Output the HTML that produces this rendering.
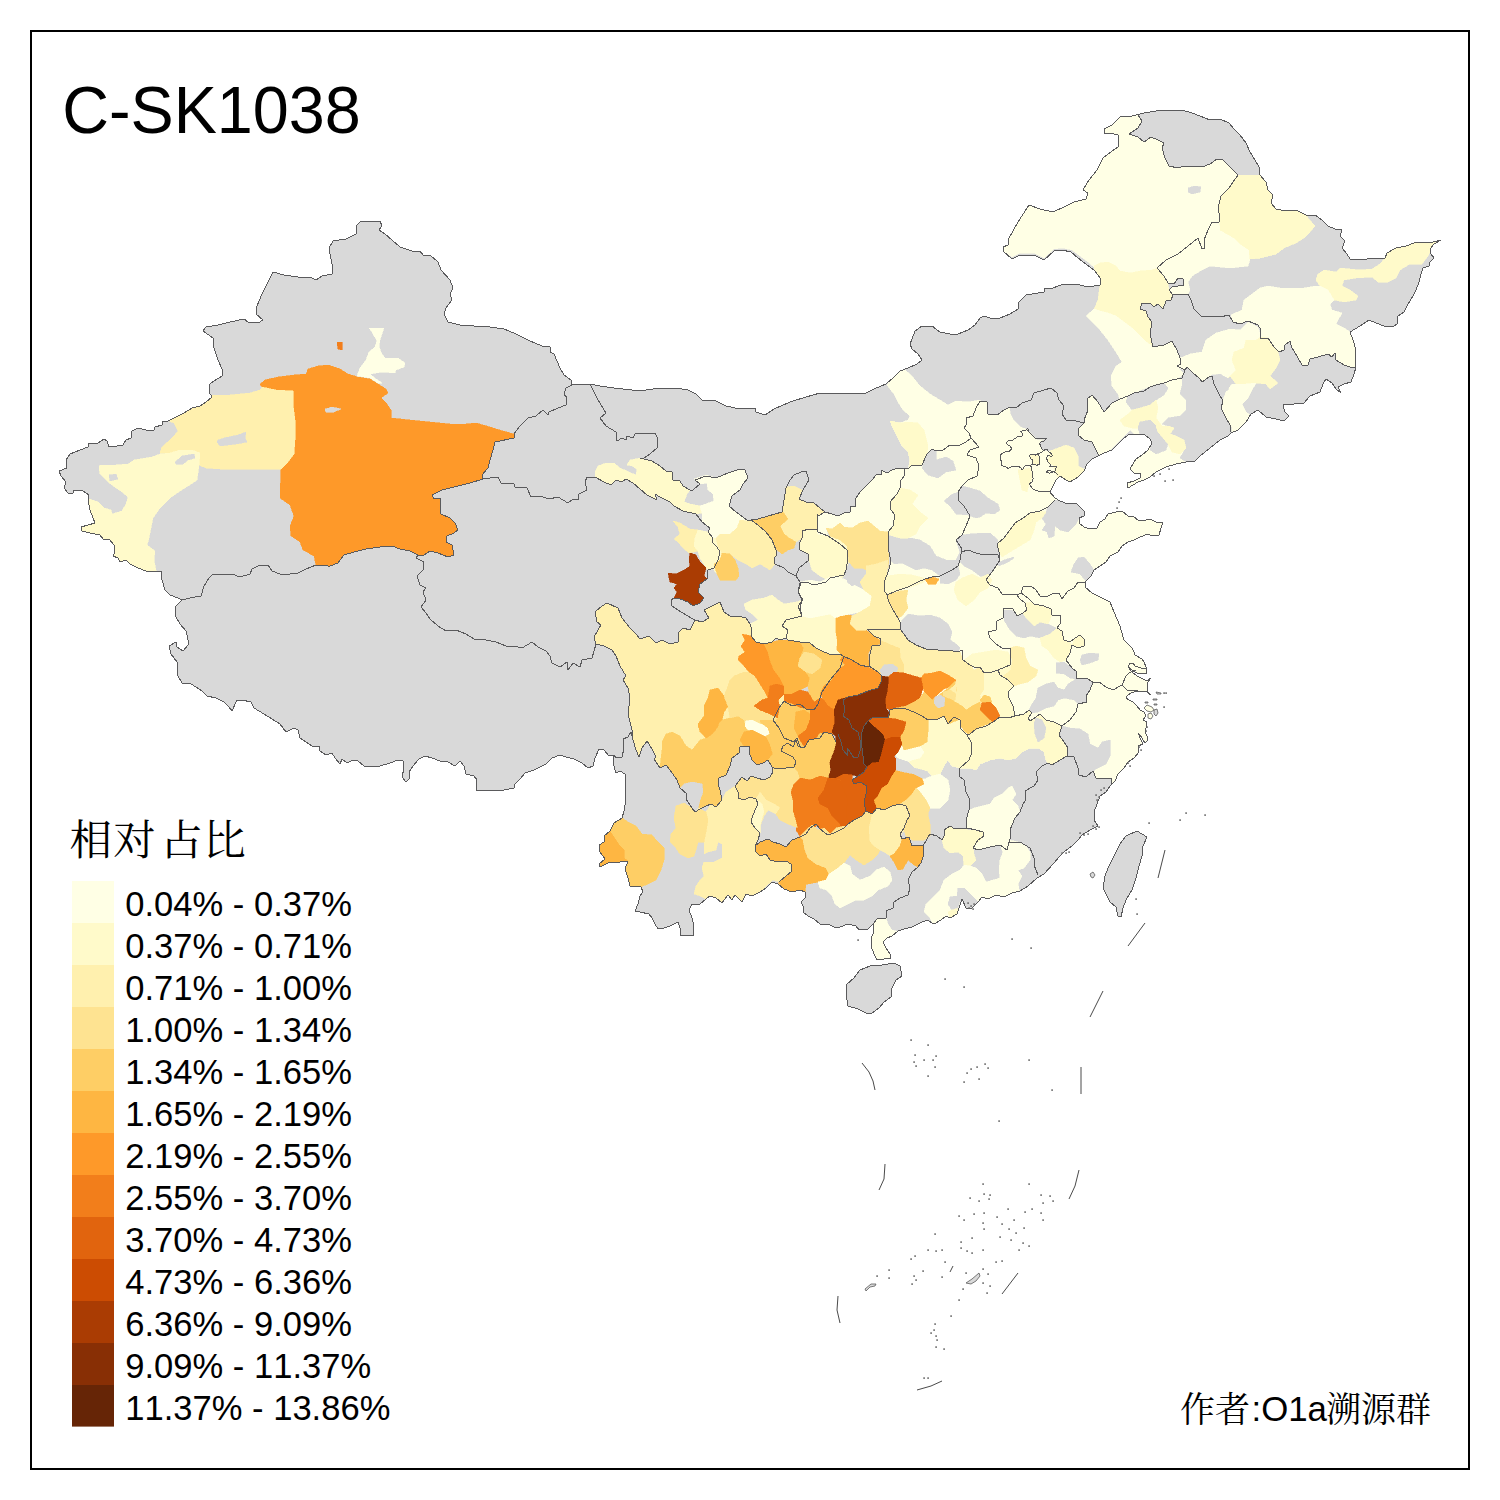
<!DOCTYPE html>
<html><head><meta charset="utf-8"><title>C-SK1038</title>
<style>
html,body{margin:0;padding:0;background:#fff;}
body{width:1500px;height:1500px;overflow:hidden;}
svg{display:block;}
.t{font-family:"Liberation Sans",sans-serif;fill:#000;font-kerning:none;}
.c{font-family:"Liberation Serif","Noto Serif CJK SC",serif;fill:#000;font-kerning:none;}
</style></head><body>
<svg width="1500" height="1500" viewBox="0 0 1500 1500">
<rect x="0" y="0" width="1500" height="1500" fill="#fff"/>
<g id="map">
<path d="M59,471 L67,468 L66,460 L70,454 L80,450 L88,447 L89,443 L98,443 L104,439 L107,441 L109,447 L117,446 L123,445 L126,440 L131,438 L132,431 L138,428 L146,430 L154,430 L155,427 L162,425 L163,421 L168,421 L176,417 L184,413 L192,408 L200,406 L206,402 L212,397 L209,392 L210,384 L214,381 L222,376 L223,371 L218,360 L214,348 L213,338 L203,331 L206,327 L218,325 L230,322 L244,319 L248,322 L258,323 L263,320 L256,314 L257,306 L262,294 L268,282 L273,272 L284,275 L298,277 L310,277 L316,280 L322,276 L332,274 L332,264 L330,254 L329,248 L333,241 L346,239 L356,234 L356,226 L360,222 L380,221 L382,226 L379,230 L385,234 L392,240 L400,247 L412,251 L420,251 L423,255 L430,255 L438,262 L441,270 L450,280 L453,288 L450,294 L452,300 L446,308 L444,314 L448,322 L460,325 L474,326 L490,327 L504,329 L516,334 L530,341 L542,346 L550,347 L550,352 L554,354 L560,368 L564,375 L571,380 L572,385 L590,384 L600,386 L614,388 L632,390 L646,390 L660,388 L676,388 L688,390 L696,394 L702,400 L714,400 L726,406 L740,409 L755,408 L756,412 L765,415 L774,409 L790,402 L806,397 L820,393 L836,394 L850,393 L866,393 L874,389 L886,384 L893,378 L900,371 L908,368 L917,364 L922,360 L918,354 L912,349 L910,344 L912,339 L915,331 L922,326 L932,326 L940,332 L950,334 L958,334 L968,330 L975,325 L980,318 L984,316 L990,318 L1000,318 L1010,314 L1018,309 L1019,302 L1026,295 L1044,292 L1045,288 L1050,289 L1064,284 L1076,284 L1080,285 L1088,287 L1100,285 L1100,278 L1095,271 L1086,264 L1078,258 L1071,252 L1062,250 L1054,251 L1044,260 L1034,255 L1020,255 L1012,259 L1003,251 L1003,247 L1008,245 L1009,238 L1018,222 L1029,205 L1040,209 L1053,212 L1064,207 L1074,202 L1086,199 L1088,193 L1083,190 L1089,180 L1097,170 L1103,158 L1112,151 L1118,147 L1118,135 L1110,133 L1104,134 L1104,129 L1112,125 L1120,117 L1132,116 L1144,113 L1156,111 L1170,110 L1182,110 L1192,113 L1200,116 L1210,120 L1220,119 L1229,123 L1234,129 L1240,135 L1246,143 L1250,152 L1255,160 L1259,167 L1259,174 L1266,182 L1268,190 L1273,195 L1271,203 L1276,209 L1286,211 L1296,210 L1306,215 L1315,215 L1322,220 L1328,226 L1335,229 L1342,230 L1340,236 L1345,241 L1342,248 L1347,254 L1350,259 L1362,260 L1372,258 L1385,258 L1387,253 L1396,248 L1406,246 L1414,243 L1424,242 L1433,242 L1441,240 L1434,244 L1430,249 L1431,254 L1434,258 L1430,262 L1429,266 L1423,268 L1421,274 L1419,282 L1416,290 L1413,296 L1408,304 L1404,312 L1398,316 L1397,324 L1393,327 L1384,326 L1376,323 L1369,320 L1360,326 L1350,332 L1353,340 L1356,350 L1355,360 L1356,367 L1354,374 L1351,382 L1344,384 L1338,387 L1341,393 L1336,389 L1332,383 L1326,379 L1323,384 L1320,392 L1310,396 L1304,403 L1294,404 L1283,405 L1285,412 L1289,416 L1284,421 L1276,419 L1266,417 L1258,410 L1251,414 L1246,422 L1238,430 L1231,433 L1228,436 L1220,440 L1210,448 L1200,456 L1195,461 L1186,462 L1176,464 L1166,467 L1156,472 L1150,477 L1144,480 L1138,482 L1128,488 L1127,483 L1134,481 L1140,478 L1140,473 L1134,473 L1130,469 L1133,464 L1136,459 L1142,455 L1148,450 L1152,443 L1150,439 L1145,435 L1136,434 L1128,435 L1123,439 L1118,444 L1112,450 L1104,453 L1098,456 L1092,459 L1087,464 L1084,471 L1078,477 L1070,482 L1066,480 L1060,476 L1056,480 L1053,486 L1050,492 L1055,498 L1060,501 L1068,504 L1076,503 L1080,507 L1085,512 L1084,516 L1079,518 L1079,523 L1084,527 L1090,529 L1097,528 L1100,522 L1105,519 L1108,514 L1116,512 L1122,511 L1128,516 L1134,517 L1138,520 L1146,520 L1150,519 L1156,522 L1163,522 L1161,528 L1159,535 L1152,536 L1148,534 L1140,537 L1134,540 L1128,542 L1122,546 L1118,552 L1110,556 L1106,562 L1100,566 L1094,570 L1091,576 L1086,581 L1085,587 L1092,593 L1102,598 L1110,602 L1114,612 L1120,626 L1124,640 L1132,648 L1134,652 L1135,655 L1142,659 L1144,662 L1146,667 L1147,673 L1143,673 L1137,673 L1132,670 L1128,667 L1132,672 L1137,676 L1143,679 L1147,681 L1151,678 L1147,683 L1147,690 L1149,694 L1151,695 L1147,692 L1137,691 L1131,693 L1127,696 L1126,698 L1129,700 L1133,702 L1137,706 L1140,710 L1144,712 L1146,716 L1143,720 L1147,722 L1146,728 L1145,732 L1147,736 L1148,740 L1145,743 L1140,735 L1138,733 L1141,740 L1143,744 L1138,746 L1139,752 L1134,758 L1128,762 L1124,768 L1118,774 L1115,781 L1110,786 L1106,792 L1100,796 L1097,804 L1094,812 L1094,820 L1098,826 L1090,830 L1082,835 L1078,840 L1072,846 L1064,852 L1059,857 L1054,863 L1044,874 L1037,878 L1028,886 L1020,891 L1012,893 L1004,897 L996,895 L988,899 L982,897 L978,902 L972,908 L966,908 L962,899 L959,908 L957,914 L950,918 L946,916 L941,920 L934,924 L927,920 L920,923 L912,927 L904,929 L898,931 L892,936 L887,938 L883,942 L886,948 L890,954 L891,958 L884,959 L877,960 L874,954 L871,946 L871,938 L874,932 L873,924 L868,929 L859,930 L856,926 L848,924 L840,927 L836,928 L830,925 L820,924 L814,919 L808,916 L803,912 L803,906 L801,902 L806,897 L805,892 L800,890 L792,892 L784,889 L778,884 L772,882 L766,888 L760,892 L752,896 L746,894 L742,902 L735,895 L732,900 L728,895 L722,903 L716,898 L710,896 L706,899 L700,904 L692,904 L689,910 L692,918 L694,926 L693,936 L686,935 L681,936 L680,928 L678,922 L670,926 L664,928 L658,929 L655,924 L652,918 L649,914 L640,912 L635,911 L638,904 L640,896 L643,892 L641,887 L630,886 L628,878 L625,869 L628,861 L620,862 L608,863 L600,867 L599,864 L605,859 L600,852 L599,845 L604,842 L604,836 L610,831 L614,823 L622,818 L624,811 L626,800 L625,788 L625,774 L620,771 L616,773 L613,763 L613,755 L609,756 L604,750 L599,749 L595,758 L593,766 L588,768 L582,763 L574,759 L566,757 L560,755 L552,758 L546,764 L544,765 L534,770 L525,773 L520,779 L515,784 L514,788 L504,790 L492,790 L477,791 L476,785 L477,780 L474,776 L466,774 L464,766 L460,761 L455,766 L448,762 L440,761 L432,758 L425,756 L419,759 L413,766 L409,772 L410,778 L406,782 L402,777 L404,768 L403,761 L398,760 L390,763 L380,766 L372,766 L364,766 L358,761 L353,760 L347,763 L342,759 L340,764 L335,758 L332,753 L326,755 L320,751 L319,746 L312,746 L306,742 L300,738 L298,730 L294,728 L286,732 L280,724 L272,719 L264,714 L254,708 L251,702 L242,700 L237,700 L232,711 L229,707 L224,702 L216,698 L207,696 L202,691 L196,687 L191,684 L182,683 L177,674 L177,662 L171,654 L169,646 L176,642 L177,647 L183,651 L189,644 L186,631 L180,624 L176,617 L175,607 L182,600 L178,598 L170,595 L165,590 L162,580 L161,571 L156,571 L146,571 L138,568 L130,564 L126,560 L120,562 L118,558 L113,556 L115,552 L114,545 L109,539 L103,539 L100,535 L90,533 L82,531 L81,527 L88,525 L95,523 L93,518 L90,510 L88,500 L89,495 L83,491 L74,490 L73,493 L68,493 L64,488 L66,482 L61,476Z" fill="#D9D9D9" stroke="none"/>
<path d="M1137,831 L1147,837 L1143,846 L1142,856 L1139,866 L1136,878 L1132,890 L1126,900 L1123,908 L1121,917 L1118,916 L1116,907 L1110,902 L1106,894 L1103,888 L1105,876 L1108,868 L1114,856 L1120,844 L1126,836Z" fill="#D9D9D9" stroke="none"/>
<path d="M894,963 L900,966 L902,976 L896,980 L892,988 L891,997 L884,1002 L879,1008 L872,1013 L866,1013 L858,1009 L848,1006 L846,994 L846,985 L854,978 L860,970 L870,966 L882,965Z" fill="#D9D9D9" stroke="none"/>
<clipPath id="landclip"><path d="M59,471 L67,468 L66,460 L70,454 L80,450 L88,447 L89,443 L98,443 L104,439 L107,441 L109,447 L117,446 L123,445 L126,440 L131,438 L132,431 L138,428 L146,430 L154,430 L155,427 L162,425 L163,421 L168,421 L176,417 L184,413 L192,408 L200,406 L206,402 L212,397 L209,392 L210,384 L214,381 L222,376 L223,371 L218,360 L214,348 L213,338 L203,331 L206,327 L218,325 L230,322 L244,319 L248,322 L258,323 L263,320 L256,314 L257,306 L262,294 L268,282 L273,272 L284,275 L298,277 L310,277 L316,280 L322,276 L332,274 L332,264 L330,254 L329,248 L333,241 L346,239 L356,234 L356,226 L360,222 L380,221 L382,226 L379,230 L385,234 L392,240 L400,247 L412,251 L420,251 L423,255 L430,255 L438,262 L441,270 L450,280 L453,288 L450,294 L452,300 L446,308 L444,314 L448,322 L460,325 L474,326 L490,327 L504,329 L516,334 L530,341 L542,346 L550,347 L550,352 L554,354 L560,368 L564,375 L571,380 L572,385 L590,384 L600,386 L614,388 L632,390 L646,390 L660,388 L676,388 L688,390 L696,394 L702,400 L714,400 L726,406 L740,409 L755,408 L756,412 L765,415 L774,409 L790,402 L806,397 L820,393 L836,394 L850,393 L866,393 L874,389 L886,384 L893,378 L900,371 L908,368 L917,364 L922,360 L918,354 L912,349 L910,344 L912,339 L915,331 L922,326 L932,326 L940,332 L950,334 L958,334 L968,330 L975,325 L980,318 L984,316 L990,318 L1000,318 L1010,314 L1018,309 L1019,302 L1026,295 L1044,292 L1045,288 L1050,289 L1064,284 L1076,284 L1080,285 L1088,287 L1100,285 L1100,278 L1095,271 L1086,264 L1078,258 L1071,252 L1062,250 L1054,251 L1044,260 L1034,255 L1020,255 L1012,259 L1003,251 L1003,247 L1008,245 L1009,238 L1018,222 L1029,205 L1040,209 L1053,212 L1064,207 L1074,202 L1086,199 L1088,193 L1083,190 L1089,180 L1097,170 L1103,158 L1112,151 L1118,147 L1118,135 L1110,133 L1104,134 L1104,129 L1112,125 L1120,117 L1132,116 L1144,113 L1156,111 L1170,110 L1182,110 L1192,113 L1200,116 L1210,120 L1220,119 L1229,123 L1234,129 L1240,135 L1246,143 L1250,152 L1255,160 L1259,167 L1259,174 L1266,182 L1268,190 L1273,195 L1271,203 L1276,209 L1286,211 L1296,210 L1306,215 L1315,215 L1322,220 L1328,226 L1335,229 L1342,230 L1340,236 L1345,241 L1342,248 L1347,254 L1350,259 L1362,260 L1372,258 L1385,258 L1387,253 L1396,248 L1406,246 L1414,243 L1424,242 L1433,242 L1441,240 L1434,244 L1430,249 L1431,254 L1434,258 L1430,262 L1429,266 L1423,268 L1421,274 L1419,282 L1416,290 L1413,296 L1408,304 L1404,312 L1398,316 L1397,324 L1393,327 L1384,326 L1376,323 L1369,320 L1360,326 L1350,332 L1353,340 L1356,350 L1355,360 L1356,367 L1354,374 L1351,382 L1344,384 L1338,387 L1341,393 L1336,389 L1332,383 L1326,379 L1323,384 L1320,392 L1310,396 L1304,403 L1294,404 L1283,405 L1285,412 L1289,416 L1284,421 L1276,419 L1266,417 L1258,410 L1251,414 L1246,422 L1238,430 L1231,433 L1228,436 L1220,440 L1210,448 L1200,456 L1195,461 L1186,462 L1176,464 L1166,467 L1156,472 L1150,477 L1144,480 L1138,482 L1128,488 L1127,483 L1134,481 L1140,478 L1140,473 L1134,473 L1130,469 L1133,464 L1136,459 L1142,455 L1148,450 L1152,443 L1150,439 L1145,435 L1136,434 L1128,435 L1123,439 L1118,444 L1112,450 L1104,453 L1098,456 L1092,459 L1087,464 L1084,471 L1078,477 L1070,482 L1066,480 L1060,476 L1056,480 L1053,486 L1050,492 L1055,498 L1060,501 L1068,504 L1076,503 L1080,507 L1085,512 L1084,516 L1079,518 L1079,523 L1084,527 L1090,529 L1097,528 L1100,522 L1105,519 L1108,514 L1116,512 L1122,511 L1128,516 L1134,517 L1138,520 L1146,520 L1150,519 L1156,522 L1163,522 L1161,528 L1159,535 L1152,536 L1148,534 L1140,537 L1134,540 L1128,542 L1122,546 L1118,552 L1110,556 L1106,562 L1100,566 L1094,570 L1091,576 L1086,581 L1085,587 L1092,593 L1102,598 L1110,602 L1114,612 L1120,626 L1124,640 L1132,648 L1134,652 L1135,655 L1142,659 L1144,662 L1146,667 L1147,673 L1143,673 L1137,673 L1132,670 L1128,667 L1132,672 L1137,676 L1143,679 L1147,681 L1151,678 L1147,683 L1147,690 L1149,694 L1151,695 L1147,692 L1137,691 L1131,693 L1127,696 L1126,698 L1129,700 L1133,702 L1137,706 L1140,710 L1144,712 L1146,716 L1143,720 L1147,722 L1146,728 L1145,732 L1147,736 L1148,740 L1145,743 L1140,735 L1138,733 L1141,740 L1143,744 L1138,746 L1139,752 L1134,758 L1128,762 L1124,768 L1118,774 L1115,781 L1110,786 L1106,792 L1100,796 L1097,804 L1094,812 L1094,820 L1098,826 L1090,830 L1082,835 L1078,840 L1072,846 L1064,852 L1059,857 L1054,863 L1044,874 L1037,878 L1028,886 L1020,891 L1012,893 L1004,897 L996,895 L988,899 L982,897 L978,902 L972,908 L966,908 L962,899 L959,908 L957,914 L950,918 L946,916 L941,920 L934,924 L927,920 L920,923 L912,927 L904,929 L898,931 L892,936 L887,938 L883,942 L886,948 L890,954 L891,958 L884,959 L877,960 L874,954 L871,946 L871,938 L874,932 L873,924 L868,929 L859,930 L856,926 L848,924 L840,927 L836,928 L830,925 L820,924 L814,919 L808,916 L803,912 L803,906 L801,902 L806,897 L805,892 L800,890 L792,892 L784,889 L778,884 L772,882 L766,888 L760,892 L752,896 L746,894 L742,902 L735,895 L732,900 L728,895 L722,903 L716,898 L710,896 L706,899 L700,904 L692,904 L689,910 L692,918 L694,926 L693,936 L686,935 L681,936 L680,928 L678,922 L670,926 L664,928 L658,929 L655,924 L652,918 L649,914 L640,912 L635,911 L638,904 L640,896 L643,892 L641,887 L630,886 L628,878 L625,869 L628,861 L620,862 L608,863 L600,867 L599,864 L605,859 L600,852 L599,845 L604,842 L604,836 L610,831 L614,823 L622,818 L624,811 L626,800 L625,788 L625,774 L620,771 L616,773 L613,763 L613,755 L609,756 L604,750 L599,749 L595,758 L593,766 L588,768 L582,763 L574,759 L566,757 L560,755 L552,758 L546,764 L544,765 L534,770 L525,773 L520,779 L515,784 L514,788 L504,790 L492,790 L477,791 L476,785 L477,780 L474,776 L466,774 L464,766 L460,761 L455,766 L448,762 L440,761 L432,758 L425,756 L419,759 L413,766 L409,772 L410,778 L406,782 L402,777 L404,768 L403,761 L398,760 L390,763 L380,766 L372,766 L364,766 L358,761 L353,760 L347,763 L342,759 L340,764 L335,758 L332,753 L326,755 L320,751 L319,746 L312,746 L306,742 L300,738 L298,730 L294,728 L286,732 L280,724 L272,719 L264,714 L254,708 L251,702 L242,700 L237,700 L232,711 L229,707 L224,702 L216,698 L207,696 L202,691 L196,687 L191,684 L182,683 L177,674 L177,662 L171,654 L169,646 L176,642 L177,647 L183,651 L189,644 L186,631 L180,624 L176,617 L175,607 L182,600 L178,598 L170,595 L165,590 L162,580 L161,571 L156,571 L146,571 L138,568 L130,564 L126,560 L120,562 L118,558 L113,556 L115,552 L114,545 L109,539 L103,539 L100,535 L90,533 L82,531 L81,527 L88,525 L95,523 L93,518 L90,510 L88,500 L89,495 L83,491 L74,490 L73,493 L68,493 L64,488 L66,482 L61,476Z"/><path d="M1137,831 L1147,837 L1143,846 L1142,856 L1139,866 L1136,878 L1132,890 L1126,900 L1123,908 L1121,917 L1118,916 L1116,907 L1110,902 L1106,894 L1103,888 L1105,876 L1108,868 L1114,856 L1120,844 L1126,836Z"/><path d="M894,963 L900,966 L902,976 L896,980 L892,988 L891,997 L884,1002 L879,1008 L872,1013 L866,1013 L858,1009 L848,1006 L846,994 L846,985 L854,978 L860,970 L870,966 L882,965Z"/></clipPath>
<g clip-path="url(#landclip)" shape-rendering="crispEdges">
<path d="M260,384 L265,380 L278,377 L294,375 L306,374 L308,369 L318,366 L328,365 L340,369 L348,374 L358,377 L370,379 L378,384 L386,389 L388,393 L381,398 L387,404 L391,410 L391,418 L410,420 L430,422 L450,424 L466,424 L476,423 L490,427 L496,429 L514,434 L514,438 L495,442 L493,450 L490,460 L488,468 L482,475 L483,479 L470,483 L458,486 L442,490 L432,495 L434,499 L440,498 L441,514 L450,518 L455,523 L458,530 L454,533 L447,536 L446,542 L452,545 L454,555 L448,557 L438,553 L430,551 L424,555 L418,555 L410,551 L400,549 L392,546 L380,547 L366,549 L354,552 L344,555 L338,563 L330,566 L316,565 L314,556 L303,550 L300,542 L291,536 L290,526 L294,516 L290,505 L280,498 L281,469 L288,462 L294,454 L295,440 L295,420 L293,404 L293,391 L276,390 L262,387Z" fill="#FE9929" stroke="#FE9929" stroke-width="0.6"/>
<path d="M325,409 L332,407 L341,409 L334,412 L326,412Z" fill="#D9D9D9" stroke="#D9D9D9" stroke-width="0.6"/>
<path d="M166,420 L176,415 L184,411 L192,406 L200,404 L206,400 L211,395 L220,395 L230,395 L240,394 L250,393 L260,390 L262,387 L276,390 L293,391 L293,404 L295,420 L295,440 L294,454 L288,462 L281,469 L260,469 L240,469 L220,469 L206,468 L199,465 L200,453 L192,450 L180,450 L170,453 L160,453 L162,447 L172,438 L178,431 L174,423Z" fill="#FFF0AE" stroke="#FFF0AE" stroke-width="0.6"/>
<path d="M218,440 L224,438 L238,435 L246,432 L245,438 L247,442 L236,444 L220,446 L217,442Z" fill="#D9D9D9" stroke="#D9D9D9" stroke-width="0.6"/>
<path d="M100,465 L116,465 L128,464 L134,460 L152,457 L160,454 L170,453 L180,450 L192,450 L200,453 L199,465 L197,480 L188,486 L180,491 L170,498 L160,508 L153,518 L151,528 L149,538 L147,545 L155,551 L154,560 L156,570 L156,575 L146,575 L138,572 L130,568 L126,564 L120,566 L116,560 L111,558 L111,552 L110,545 L107,543 L101,543 L98,539 L88,537 L78,533 L77,527 L86,521 L92,521 L90,518 L88,510 L86,500 L89,499 L98,502 L104,508 L111,510 L112,514 L122,511 L126,504 L128,497 L122,492 L116,488 L108,482 L104,478 L100,474 L99,468Z" fill="#FFFACA" stroke="#FFFACA" stroke-width="0.6"/>
<path d="M109,475 L116,474 L118,479 L110,481Z" fill="#D9D9D9" stroke="#D9D9D9" stroke-width="0.6"/>
<path d="M175,462 L182,456 L194,454 L195,458 L188,460 L183,464 L176,464Z" fill="#D9D9D9" stroke="#D9D9D9" stroke-width="0.6"/>
<path d="M369,328 L384,328 L380,340 L379,347 L382,354 L385,358 L398,358 L405,363 L404,367 L396,370 L395,373 L382,372 L370,374 L376,379 L382,383 L378,383 L370,378 L364,377 L357,376 L360,368 L366,360 L369,352 L375,347 L377,341 L372,332Z" fill="#FFFFE5" stroke="#FFFFE5" stroke-width="0.6"/>
<path d="M337,342 L342,342 L342,350 L338,349Z" fill="#F27E1B" stroke="#F27E1B" stroke-width="0.6"/>
<path d="M595,472 L598,466 L606,463 L614,463 L620,468 L629,472 L636,475 L637,469 L632,466 L627,465 L630,460 L640,458 L652,461 L660,466 L666,471 L672,472 L673,480 L680,481 L683,486 L690,490 L687,494 L684,502 L690,504 L700,506 L702,513 L696,514 L683,511 L674,506 L670,502 L660,497 L655,494 L657,500 L647,495 L640,489 L633,483 L626,479 L622,482 L616,480 L611,485 L604,482 L595,477Z" fill="#FFFACA" stroke="#FFFACA" stroke-width="0.6"/>
<path d="M694,479 L706,475 L716,478 L728,473 L740,470 L745,470 L748,478 L743,484 L740,490 L732,496 L729,506 L736,512 L743,517 L748,521 L740,520 L737,528 L730,534 L720,534 L716,538 L713,538 L708,532 L710,528 L702,522 L702,513 L700,506 L714,501 L713,494 L708,490 L707,483 L700,484Z" fill="#FFFFE5" stroke="#FFFFE5" stroke-width="0.6"/>
<path d="M673,521 L680,523 L690,529 L698,530 L695,538 L694,546 L698,551 L689,553 L683,548 L678,542 L674,539 L680,534 L678,527Z" fill="#FFF0AE" stroke="#FFF0AE" stroke-width="0.6"/>
<path d="M698,530 L708,532 L713,538 L716,538 L718,546 L722,553 L720,560 L714,564 L717,574 L712,568 L708,570 L704,564 L700,558 L698,551 L694,546 L695,538Z" fill="#FFFACA" stroke="#FFFACA" stroke-width="0.6"/>
<path d="M716,538 L720,534 L730,534 L737,528 L740,520 L748,521 L751,520 L758,525 L766,532 L772,540 L776,550 L777,555 L774,558 L775,564 L770,570 L760,564 L752,568 L746,564 L738,560 L730,554 L722,553 L718,546Z" fill="#FFF0AE" stroke="#FFF0AE" stroke-width="0.6"/>
<path d="M722,553 L730,554 L735,560 L738,568 L739,576 L736,580 L720,580 L717,574 L714,564 L720,560Z" fill="#FECE65" stroke="#FECE65" stroke-width="0.6"/>
<path d="M786,487 L794,486 L802,490 L799,499 L806,502 L814,503 L820,508 L825,512 L818,516 L817,522 L817,529 L809,529 L802,531 L802,538 L796,542 L789,538 L784,534 L780,526 L788,519 L784,513 L782,512 L784,500Z" fill="#FFF0AE" stroke="#FFF0AE" stroke-width="0.6"/>
<path d="M751,520 L758,519 L768,516 L782,512 L784,513 L788,519 L780,526 L784,534 L789,538 L796,542 L794,548 L788,550 L782,554 L777,550 L772,540 L766,532 L758,525Z" fill="#FECE65" stroke="#FECE65" stroke-width="0.6"/>
<path d="M802,531 L809,529 L817,530 L818,534 L828,536 L840,540 L847,546 L848,552 L849,562 L846,568 L844,576 L838,580 L828,580 L820,576 L812,570 L809,560 L808,554 L800,550 L799,544 L802,538Z" fill="#FFFACA" stroke="#FFFACA" stroke-width="0.6"/>
<path d="M825,512 L832,514 L838,516 L844,513 L850,512 L851,506 L855,507 L856,498 L860,492 L866,486 L872,480 L876,475 L882,474 L881,470 L887,473 L892,470 L898,468 L904,468 L905,475 L901,480 L900,488 L897,494 L890,502 L891,510 L895,515 L893,526 L888,532 L880,531 L874,526 L868,521 L860,523 L852,528 L844,527 L840,523 L832,529 L826,528 L828,536 L818,534 L817,522 L818,516Z" fill="#FFFFE5" stroke="#FFFFE5" stroke-width="0.6"/>
<path d="M826,528 L832,529 L840,523 L844,527 L852,528 L860,523 L868,521 L874,526 L880,531 L888,532 L888,546 L889,560 L888,568 L880,570 L870,572 L862,568 L854,568 L849,562 L848,552 L847,546 L840,540 L830,536Z" fill="#FEE391" stroke="#FEE391" stroke-width="0.6"/>
<path d="M887,385 L893,376 L899,368 L905,370 L912,376 L920,386 L930,394 L940,400 L948,405 L956,401 L968,402 L980,400 L980,401 L976,408 L973,416 L966,418 L967,424 L964,428 L969,433 L971,438 L966,442 L958,446 L950,445 L943,450 L936,451 L932,449 L927,454 L922,465 L912,465 L908,469 L910,460 L908,452 L902,446 L898,438 L893,428 L890,421 L900,423 L908,420 L910,416 L903,410 L898,402 L894,394 L890,389Z" fill="#FFFFE5" stroke="#FFFFE5" stroke-width="0.6"/>
<path d="M890,421 L900,423 L908,422 L918,423 L924,430 L926,438 L928,446 L927,454 L922,465 L912,465 L909,468 L910,460 L908,452 L902,446 L898,438 L893,428Z" fill="#FFFACA" stroke="#FFFACA" stroke-width="0.6"/>
<path d="M1100,285 L1102,278 L1097,270 L1088,262 L1080,256 L1072,250 L1062,248 L1054,249 L1044,258 L1034,253 L1020,253 L1012,257 L1001,251 L1001,245 L1006,243 L1007,238 L1016,221 L1028,203 L1040,207 L1053,210 L1064,205 L1074,200 L1084,198 L1086,193 L1081,190 L1087,179 L1095,169 L1101,157 L1111,149 L1116,146 L1116,137 L1110,135 L1102,136 L1102,128 L1111,123 L1119,115 L1132,114 L1138,113 L1138,115 L1142,121 L1138,128 L1129,134 L1138,137 L1144,142 L1151,137 L1158,140 L1164,143 L1162,148 L1165,158 L1169,166 L1178,168 L1184,166 L1192,166 L1202,167 L1210,164 L1217,159 L1223,160 L1230,167 L1238,175 L1233,182 L1229,188 L1221,196 L1219,204 L1218,210 L1220,216 L1219,222 L1212,222 L1208,230 L1204,240 L1205,248 L1202,249 L1198,238 L1188,246 L1178,254 L1166,260 L1157,268 L1152,270 L1140,271 L1130,273 L1120,271 L1116,266 L1108,262 L1100,263 L1094,266 L1095,271 L1100,278Z" fill="#FFFFE5" stroke="#FFFFE5" stroke-width="0.6"/>
<path d="M1188,188 L1194,186 L1201,187 L1200,192 L1192,194 L1188,192Z" fill="#D9D9D9" stroke="#D9D9D9" stroke-width="0.6"/>
<path d="M1094,266 L1100,263 L1108,262 L1116,266 L1120,271 L1130,273 L1140,271 L1152,270 L1157,268 L1164,276 L1168,283 L1169,290 L1173,295 L1171,300 L1166,301 L1163,309 L1158,304 L1154,307 L1150,303 L1142,303 L1140,309 L1146,311 L1148,317 L1152,322 L1150,334 L1152,346 L1146,342 L1140,336 L1132,328 L1124,322 L1116,316 L1108,313 L1100,311 L1094,309 L1098,300 L1099,292 L1100,285 L1100,278 L1095,271Z" fill="#FFFACA" stroke="#FFFACA" stroke-width="0.6"/>
<path d="M1086,316 L1094,309 L1100,311 L1108,313 L1116,316 L1124,322 L1132,328 L1140,336 L1146,342 L1152,346 L1153,347 L1164,345 L1172,341 L1177,350 L1180,358 L1181,364 L1177,367 L1180,370 L1184,374 L1176,380 L1168,382 L1156,384 L1146,388 L1134,393 L1128,396 L1120,399 L1118,394 L1112,386 L1111,376 L1116,366 L1122,362 L1116,352 L1108,340 L1100,330 L1092,322Z" fill="#FFFFE5" stroke="#FFFFE5" stroke-width="0.6"/>
<path d="M1238,175 L1259,175 L1262,174 L1268,181 L1270,190 L1275,195 L1273,203 L1277,208 L1286,209 L1296,208 L1306,213 L1308,218 L1315,226 L1310,232 L1304,238 L1296,243 L1284,248 L1276,254 L1260,258 L1250,259 L1249,250 L1240,244 L1234,238 L1236,230 L1220,230 L1219,222 L1220,216 L1218,210 L1219,204 L1221,196 L1229,188 L1233,182Z" fill="#FFFACA" stroke="#FFFACA" stroke-width="0.6"/>
<path d="M1212,222 L1219,222 L1220,230 L1236,230 L1234,238 L1240,244 L1249,250 L1250,259 L1248,266 L1230,268 L1210,266 L1202,270 L1192,276 L1188,282 L1184,285 L1183,279 L1178,278 L1174,284 L1168,283 L1164,276 L1157,268 L1166,260 L1178,254 L1188,246 L1198,238 L1202,249 L1205,248 L1204,240 L1208,230Z" fill="#FFFFE5" stroke="#FFFFE5" stroke-width="0.6"/>
<path d="M1172,287 L1184,285 L1188,282 L1190,290 L1188,294 L1173,295 L1169,290Z" fill="#FFFFE5" stroke="#FFFFE5" stroke-width="0.6"/>
<path d="M1318,274 L1324,270 L1336,272 L1340,268 L1360,270 L1372,269 L1380,264 L1385,258 L1385,256 L1387,251 L1396,246 L1406,244 L1414,241 L1424,240 L1433,240 L1443,238 L1436,244 L1432,249 L1428,256 L1422,264 L1410,264 L1400,270 L1396,278 L1388,282 L1378,282 L1372,277 L1356,278 L1344,280 L1342,286 L1350,290 L1358,296 L1356,300 L1344,302 L1334,300 L1328,290 L1320,286 L1316,280Z" fill="#FFFACA" stroke="#FFFACA" stroke-width="0.6"/>
<path d="M1231,315 L1242,310 L1244,300 L1252,294 L1260,288 L1268,286 L1280,288 L1292,288 L1304,288 L1316,286 L1320,286 L1328,290 L1334,300 L1330,304 L1332,310 L1342,313 L1338,320 L1336,324 L1344,328 L1350,332 L1355,340 L1358,350 L1357,360 L1358,367 L1350,367 L1344,365 L1336,360 L1335,353 L1332,357 L1328,354 L1318,357 L1310,359 L1308,365 L1302,365 L1297,356 L1292,348 L1290,341 L1285,345 L1284,350 L1279,352 L1274,347 L1268,338 L1260,338 L1261,330 L1258,325 L1248,321 L1240,324 L1233,322Z" fill="#FFFFE5" stroke="#FFFFE5" stroke-width="0.6"/>
<path d="M1206,340 L1216,333 L1230,329 L1240,330 L1248,322 L1258,327 L1261,337 L1256,340 L1248,340 L1244,348 L1234,352 L1232,360 L1236,370 L1228,378 L1220,374 L1212,374 L1209,377 L1202,382 L1200,379 L1192,374 L1188,367 L1184,370 L1177,367 L1181,364 L1180,358 L1190,354 L1202,352 L1204,346Z" fill="#FFFFE5" stroke="#FFFFE5" stroke-width="0.6"/>
<path d="M1246,340 L1256,340 L1261,337 L1268,338 L1274,347 L1278,352 L1280,360 L1276,368 L1270,376 L1278,383 L1270,389 L1266,384 L1256,383 L1246,384 L1236,384 L1230,376 L1228,378 L1236,370 L1232,360 L1234,352 L1244,348Z" fill="#FFFACA" stroke="#FFFACA" stroke-width="0.6"/>
<path d="M1223,400 L1226,392 L1232,384 L1246,384 L1256,383 L1252,390 L1248,398 L1242,404 L1246,412 L1250,415 L1246,423 L1235,433 L1230,432 L1231,426 L1225,416 L1221,408Z" fill="#FFFFE5" stroke="#FFFFE5" stroke-width="0.6"/>
<path d="M1212,376 L1220,374 L1230,380 L1228,390 L1220,394 L1218,392 L1214,384Z" fill="#D9D9D9" stroke="#D9D9D9" stroke-width="0.6"/>
<path d="M1084,423 L1084,420 L1088,410 L1087,399 L1092,395 L1098,402 L1104,412 L1112,403 L1120,399 L1128,396 L1134,393 L1144,391 L1150,387 L1156,385 L1164,383 L1172,380 L1182,378 L1185,370 L1187,367 L1192,372 L1200,379 L1202,382 L1209,377 L1212,376 L1214,384 L1218,392 L1223,401 L1221,408 L1225,416 L1231,427 L1232,436 L1215,452 L1198,464 L1170,472 L1140,490 L1120,495 L1125,470 L1145,445 L1130,430 L1105,455 L1085,470 L1060,485 L1052,480 L1057,476 L1060,474 L1066,478 L1070,480 L1078,475 L1084,469 L1087,464 L1092,459 L1099,456 L1095,448 L1092,442 L1084,440 L1078,435 L1078,429Z" fill="#FFFFE5" stroke="#FFFFE5" stroke-width="0.6"/>
<path d="M1128,396 L1134,393 L1144,391 L1150,387 L1156,385 L1164,383 L1168,388 L1164,395 L1156,400 L1150,405 L1140,408 L1132,410 L1126,402Z" fill="#D9D9D9" stroke="#D9D9D9" stroke-width="0.6"/>
<path d="M1120,420 L1128,414 L1132,410 L1140,408 L1150,405 L1156,400 L1158,408 L1156,418 L1162,426 L1156,426 L1150,420 L1140,422 L1138,428 L1132,428 L1124,426Z" fill="#FFFACA" stroke="#FFFACA" stroke-width="0.6"/>
<path d="M1138,428 L1140,422 L1150,420 L1156,426 L1158,432 L1168,444 L1166,450 L1156,454 L1150,450 L1152,443 L1150,439 L1145,435 L1140,434Z" fill="#D9D9D9" stroke="#D9D9D9" stroke-width="0.6"/>
<path d="M1185,370 L1187,367 L1192,372 L1200,379 L1202,382 L1209,377 L1212,376 L1214,384 L1218,392 L1223,401 L1221,408 L1225,416 L1231,427 L1232,436 L1215,452 L1198,464 L1186,462 L1180,458 L1186,448 L1184,440 L1176,436 L1170,434 L1174,428 L1168,426 L1162,424 L1168,418 L1180,416 L1186,410 L1186,400 L1180,394 L1182,386 L1182,378Z" fill="#D9D9D9" stroke="#D9D9D9" stroke-width="0.6"/>
<path d="M1156,426 L1162,426 L1168,426 L1174,428 L1170,434 L1176,436 L1184,440 L1186,448 L1180,454 L1172,452 L1168,444 L1158,432Z" fill="#FFFACA" stroke="#FFFACA" stroke-width="0.6"/>
<path d="M904,468 L908,469 L912,465 L922,465 L927,454 L932,449 L936,451 L943,450 L950,445 L958,446 L966,442 L971,438 L969,433 L964,428 L967,424 L966,418 L973,416 L976,408 L980,401 L987,402 L988,414 L997,415 L1004,410 L1010,407 L1016,408 L1022,403 L1031,400 L1034,393 L1044,390 L1051,388 L1057,393 L1059,400 L1064,406 L1062,414 L1066,420 L1076,421 L1084,423 L1078,429 L1078,435 L1084,440 L1092,442 L1095,448 L1099,456 L1100,470 L1090,490 L1095,505 L1130,500 L1175,515 L1170,545 L1130,555 L1105,580 L1100,592 L1120,605 L1135,640 L1155,665 L1165,705 L1160,730 L1150,750 L1130,775 L1115,790 L1111,784 L1111,778 L1102,779 L1096,778 L1093,771 L1086,777 L1079,775 L1078,768 L1074,757 L1067,756 L1060,760 L1052,765 L1048,763 L1046,760 L1044,752 L1038,748 L1030,748 L1022,752 L1016,758 L1008,760 L1000,758 L990,760 L980,764 L976,770 L969,768 L960,768 L952,766 L948,760 L944,766 L940,774 L932,776 L928,772 L922,770 L914,768 L908,762 L900,760 L896,756 L898,752 L902,744 L904,750 L912,748 L920,746 L927,742 L928,732 L928,720 L922,714 L914,710 L906,706 L914,702 L920,698 L923,688 L921,678 L914,676 L904,673 L894,672 L888,677 L882,676 L878,672 L869,666 L870,654 L872,646 L880,645 L881,639 L874,636 L867,629 L872,630 L880,629 L890,630 L900,629 L901,624 L898,618 L893,610 L889,602 L887,595 L884,590 L885,580 L888,572 L891,562 L889,552 L888,540 L888,532 L893,526 L895,515 L891,510 L890,502 L897,494 L900,488 L901,480 L905,475Z" fill="#FFFFE5" stroke="#FFFFE5" stroke-width="0.6"/>
<path d="M927,454 L932,449 L936,451 L936,460 L946,457 L953,461 L956,470 L946,472 L938,478 L928,475 L922,468Z" fill="#D9D9D9" stroke="#D9D9D9" stroke-width="0.6"/>
<path d="M958,492 L951,495 L944,501 L950,506 L956,514 L968,515 L970,516 L964,506 L958,500Z" fill="#D9D9D9" stroke="#D9D9D9" stroke-width="0.6"/>
<path d="M889,535 L900,538 L910,538 L920,540 L930,546 L936,556 L946,560 L956,560 L960,552 L956,540 L962,535 L970,534 L984,533 L990,533 L998,540 L997,544 L999,552 L1000,560 L998,563 L992,572 L986,576 L980,576 L972,570 L964,566 L960,562 L958,566 L952,570 L946,573 L940,576 L932,570 L924,568 L916,570 L908,566 L902,563 L894,564 L890,560 L888,546Z" fill="#D9D9D9" stroke="#D9D9D9" stroke-width="0.6"/>
<path d="M1010,407 L1016,408 L1022,403 L1031,400 L1034,393 L1044,390 L1051,388 L1057,393 L1059,400 L1064,406 L1062,414 L1066,420 L1076,421 L1084,423 L1078,429 L1078,435 L1084,440 L1092,442 L1095,448 L1099,456 L1092,459 L1087,464 L1084,469 L1078,466 L1078,456 L1074,448 L1066,445 L1058,448 L1050,451 L1044,450 L1042,449 L1040,442 L1046,439 L1037,439 L1030,432 L1027,429 L1020,426 L1014,420 L1011,414Z" fill="#D9D9D9" stroke="#D9D9D9" stroke-width="0.6"/>
<path d="M1050,451 L1058,448 L1066,445 L1074,448 L1078,456 L1078,466 L1084,469 L1084,473 L1078,479 L1070,484 L1066,482 L1060,478 L1057,476 L1055,472 L1054,466 L1048,462 L1050,454Z" fill="#FFFACA" stroke="#FFFACA" stroke-width="0.6"/>
<path d="M962,486 L970,488 L980,491 L988,498 L998,504 L1000,510 L994,514 L986,513 L980,517 L976,518 L970,516 L964,506 L958,500 L958,492Z" fill="#D9D9D9" stroke="#D9D9D9" stroke-width="0.6"/>
<path d="M1018,470 L1031,468 L1032,478 L1029,484 L1027,492 L1022,490 L1020,480Z" fill="#FFFACA" stroke="#FFFACA" stroke-width="0.6"/>
<path d="M1055,500 L1060,501 L1068,504 L1076,503 L1080,507 L1085,512 L1084,516 L1079,518 L1076,524 L1068,532 L1060,530 L1055,526 L1054,536 L1049,538 L1047,532 L1042,530 L1046,524 L1042,518 L1046,512 L1048,507Z" fill="#D9D9D9" stroke="#D9D9D9" stroke-width="0.6"/>
<path d="M1030,513 L1040,511 L1046,512 L1042,518 L1036,522 L1034,530 L1030,540 L1020,546 L1010,552 L1002,557 L999,552 L997,544 L1004,538 L1010,530 L1015,523 L1023,518Z" fill="#FFFACA" stroke="#FFFACA" stroke-width="0.6"/>
<path d="M1078,558 L1084,557 L1090,564 L1094,570 L1091,576 L1086,581 L1080,574 L1071,572 L1074,564Z" fill="#D9D9D9" stroke="#D9D9D9" stroke-width="0.6"/>
<path d="M998,563 L1004,560 L1014,557 L1013,559 L1006,563 L999,566Z" fill="#D9D9D9" stroke="#D9D9D9" stroke-width="0.6"/>
<path d="M1004,610 L1012,610 L1017,616 L1023,613 L1026,618 L1034,626 L1040,622 L1048,624 L1056,628 L1057,634 L1050,634 L1040,638 L1030,636 L1024,638 L1016,636 L1010,630 L1004,620Z" fill="#D9D9D9" stroke="#D9D9D9" stroke-width="0.6"/>
<path d="M1023,613 L1027,610 L1025,603 L1032,602 L1034,604 L1044,606 L1051,609 L1052,615 L1048,624 L1040,622 L1034,626 L1026,618Z" fill="#FFFACA" stroke="#FFFACA" stroke-width="0.6"/>
<path d="M1040,638 L1050,634 L1057,628 L1062,631 L1064,640 L1070,642 L1072,645 L1070,653 L1066,660 L1060,662 L1054,658 L1048,650 L1042,646Z" fill="#FFFACA" stroke="#FFFACA" stroke-width="0.6"/>
<path d="M1010,648 L1016,646 L1024,648 L1026,658 L1030,666 L1038,670 L1036,676 L1028,682 L1020,684 L1014,686 L1008,680 L1000,675 L998,670 L1010,665Z" fill="#FFF0AE" stroke="#FFF0AE" stroke-width="0.6"/>
<path d="M1056,663 L1064,662 L1072,668 L1077,672 L1076,679 L1070,678 L1064,674 L1056,673Z" fill="#D9D9D9" stroke="#D9D9D9" stroke-width="0.6"/>
<path d="M1076,679 L1086,678 L1093,682 L1090,690 L1086,696 L1087,702 L1078,704 L1074,700 L1064,698 L1058,700 L1054,706 L1046,708 L1038,712 L1032,713 L1029,710 L1032,704 L1036,698 L1038,688 L1046,684 L1054,682 L1058,688 L1064,690 L1068,684Z" fill="#D9D9D9" stroke="#D9D9D9" stroke-width="0.6"/>
<path d="M1082,655 L1090,653 L1099,654 L1098,660 L1090,663 L1082,665 L1080,660Z" fill="#D9D9D9" stroke="#D9D9D9" stroke-width="0.6"/>
<path d="M1062,726 L1070,728 L1080,729 L1088,734 L1090,744 L1098,748 L1102,742 L1110,740 L1110,756 L1106,764 L1098,768 L1093,771 L1086,777 L1079,775 L1078,768 L1074,757 L1067,756 L1068,748 L1064,742 L1059,735Z" fill="#D9D9D9" stroke="#D9D9D9" stroke-width="0.6"/>
<path d="M967,735 L976,729 L986,726 L993,722 L1000,717 L1008,718 L1015,716 L1024,714 L1029,710 L1032,713 L1028,718 L1030,721 L1036,717 L1040,714 L1046,720 L1054,722 L1062,726 L1059,735 L1064,742 L1068,748 L1067,756 L1060,760 L1052,765 L1048,763 L1046,760 L1044,752 L1038,748 L1030,748 L1022,752 L1016,758 L1008,760 L1000,758 L990,760 L980,764 L976,770 L969,768 L960,768 L969,760 L972,752 L971,742Z" fill="#FFFACA" stroke="#FFFACA" stroke-width="0.6"/>
<path d="M1036,718 L1042,720 L1046,728 L1044,738 L1038,742 L1035,734 L1034,724Z" fill="#D9D9D9" stroke="#D9D9D9" stroke-width="0.6"/>
<path d="M902,620 L908,614 L920,616 L930,615 L940,618 L948,624 L952,632 L950,640 L956,644 L960,648 L958,652 L948,650 L938,650 L926,649 L916,645 L908,640 L904,634 L900,629 L901,624Z" fill="#D9D9D9" stroke="#D9D9D9" stroke-width="0.6"/>
<path d="M940,576 L946,573 L952,570 L958,566 L960,574 L956,580 L948,584 L940,583Z" fill="#D9D9D9" stroke="#D9D9D9" stroke-width="0.6"/>
<path d="M925,579 L932,577 L939,579 L936,584 L928,584Z" fill="#FEB642" stroke="#FEB642" stroke-width="0.6"/>
<path d="M1012,786 L1016,794 L1012,800 L1018,806 L1020,812 L1015,818 L1010,830 L1011,836 L1009,842 L1007,850 L1000,845 L990,847 L978,850 L973,848 L978,840 L984,836 L983,832 L976,830 L967,828 L966,820 L969,810 L974,808 L982,806 L990,804 L994,798 L1002,794 L1008,788Z" fill="#FFFFE5" stroke="#FFFFE5" stroke-width="0.6"/>
<path d="M928,720 L938,719 L944,716 L948,724 L954,717 L960,720 L960,728 L966,734 L971,742 L972,752 L969,760 L960,768 L952,766 L948,760 L944,766 L940,774 L932,776 L928,772 L922,770 L914,768 L908,762 L900,760 L896,756 L898,752 L902,744 L904,750 L912,748 L920,746 L927,742 L928,732Z" fill="#FFFACA" stroke="#FFFACA" stroke-width="0.6"/>
<path d="M896,756 L898,752 L902,744 L904,750 L912,748 L920,746 L924,752 L920,758 L912,760 L908,762 L900,760Z" fill="#FFFFE5" stroke="#FFFFE5" stroke-width="0.6"/>
<path d="M922,778 L926,778 L932,776 L940,774 L948,780 L950,790 L948,800 L940,808 L930,808 L926,800 L920,792 L916,788 L924,784Z" fill="#FFFFE5" stroke="#FFFFE5" stroke-width="0.6"/>
<path d="M900,488 L910,490 L918,495 L912,504 L920,512 L928,518 L920,526 L916,534 L908,538 L900,538 L889,535 L888,532 L893,526 L895,515 L891,510 L890,502 L897,494Z" fill="#FFFACA" stroke="#FFFACA" stroke-width="0.6"/>
<path d="M962,578 L972,574 L980,578 L988,574 L992,580 L988,588 L980,592 L974,600 L966,606 L958,600 L954,590 L956,582Z" fill="#FFFACA" stroke="#FFFACA" stroke-width="0.6"/>
<path d="M964,660 L972,654 L984,652 L996,650 L1008,652 L1012,660 L1010,670 L1000,678 L992,672 L984,673 L980,667 L976,668 L970,665Z" fill="#FFFACA" stroke="#FFFACA" stroke-width="0.6"/>
<path d="M1029.6,455.2 L1030.8,454.4 L1033.6,454.4 L1035.2,455.2 L1037.6,454 L1039.2,456 L1039,460 L1039.6,464 L1037.2,465.2 L1034.4,464.8 L1032.8,464 L1032.8,460 L1031.2,459.2 L1030,456.8Z" fill="#FFFACA" stroke="#FFFACA" stroke-width="0.6"/>
<path d="M1075,638 L1080,635 L1085,640 L1084,646 L1078,648 L1072,645Z" fill="#FFFACA" stroke="#FFFACA" stroke-width="0.6"/>
<path d="M1220,230 L1236,230 L1246,222 L1262,224 L1284,248 L1276,254 L1260,258 L1250,259 L1249,250 L1240,244 L1234,238Z" fill="#FFFACA" stroke="#FFFACA" stroke-width="0.6"/>
<path d="M607,603 L618,608 L622,618 L630,628 L636,634 L640,639 L649,636 L656,643 L662,640 L670,644 L678,642 L679,632 L683,628 L690,630 L695,620 L702,622 L709,618 L704,610 L712,606 L720,602 L724,612 L730,616 L738,616 L746,618 L750,624 L752,630 L751,636 L760,640 L775,650 L785,680 L785,720 L776,740 L772,767 L768,760 L763,763 L757,765 L752,760 L749,752 L750,746 L740,747 L739,753 L732,758 L730,766 L726,775 L719,778 L718,784 L720,790 L722,800 L716,807 L711,804 L706,806 L700,809 L695,812 L692,808 L686,799 L687,794 L680,788 L677,780 L670,770 L666,765 L660,768 L654,759 L656,757 L652,749 L647,741 L642,748 L639,757 L636,750 L633,740 L632,730 L630,722 L628,713 L629,706 L630,698 L628,688 L623,680 L626,676 L620,666 L616,656 L612,650 L604,646 L596,644 L594,637 L598,630 L601,625 L597,622 L595,612 L602,606Z" fill="#FFF0AE" stroke="#FFF0AE" stroke-width="0.6"/>
<path d="M666,734 L672,732 L680,736 L686,746 L692,750 L700,740 L706,738 L712,734 L716,724 L722,720 L730,718 L738,716 L744,720 L745,726 L748,730 L756,732 L764,737 L770,734 L772,740 L773,754 L768,760 L763,763 L757,765 L752,760 L749,752 L750,746 L740,747 L739,753 L732,758 L730,766 L726,775 L719,778 L718,784 L720,790 L722,800 L716,807 L711,804 L706,806 L698,808 L700,800 L703,792 L702,784 L692,782 L684,784 L680,788 L677,780 L670,770 L666,765 L660,768 L661,758 L662,750 L662,742Z" fill="#FECE65" stroke="#FECE65" stroke-width="0.6"/>
<path d="M680,788 L684,784 L692,782 L702,784 L703,792 L700,800 L698,808 L695,812 L692,808 L686,799 L687,794Z" fill="#D9D9D9" stroke="#D9D9D9" stroke-width="0.6"/>
<path d="M710,690 L718,688 L724,696 L728,706 L724,712 L722,720 L716,724 L712,734 L706,738 L700,732 L698,724 L704,716 L704,706 L708,698Z" fill="#FEB642" stroke="#FEB642" stroke-width="0.6"/>
<path d="M698,726 L706,720 L720,720 L718,726 L714,732 L706,738 L702,732Z" fill="#FEB642" stroke="#FEB642" stroke-width="0.6"/>
<path d="M734,676 L744,672 L749,672 L755,676 L760,684 L765,692 L768,698 L762,700 L754,706 L760,710 L770,714 L778,718 L774,722 L768,726 L760,724 L752,720 L746,721 L744,720 L738,716 L730,718 L728,706 L724,696 L728,686 L730,680Z" fill="#FEE391" stroke="#FEE391" stroke-width="0.6"/>
<path d="M746,721 L752,720 L760,724 L768,726 L770,734 L764,737 L756,732 L748,730 L745,726Z" fill="#FFFFE5" stroke="#FFFFE5" stroke-width="0.6"/>
<path d="M744,732 L752,730 L760,734 L768,738 L772,746 L773,754 L768,760 L763,763 L757,765 L752,760 L749,752 L750,746 L744,746 L740,740Z" fill="#FEB642" stroke="#FEB642" stroke-width="0.6"/>
<path d="M742,634 L751,636 L756,642 L764,644 L768,652 L770,660 L774,670 L780,678 L784,686 L784,694 L778,700 L780,708 L778,718 L770,714 L760,710 L754,706 L762,700 L768,698 L765,692 L760,684 L755,676 L749,672 L744,666 L738,660 L739,656 L745,652 L741,646 L745,640Z" fill="#FE9929" stroke="#FE9929" stroke-width="0.6"/>
<path d="M768,698 L770,686 L776,684 L784,686 L784,694 L778,700 L780,708 L778,718 L770,714 L760,710 L754,706 L762,700Z" fill="#F27E1B" stroke="#F27E1B" stroke-width="0.6"/>
<path d="M764,644 L772,642 L780,640 L788,640 L800,642 L804,648 L800,658 L798,666 L806,672 L810,678 L808,686 L800,690 L792,694 L784,694 L784,686 L780,678 L774,670 L770,660 L768,652Z" fill="#FEB642" stroke="#FEB642" stroke-width="0.6"/>
<path d="M800,642 L810,643 L816,648 L824,652 L832,655 L840,654 L846,660 L844,666 L838,672 L834,680 L830,686 L824,692 L820,698 L814,702 L810,698 L808,686 L810,678 L806,672 L798,666 L800,658 L804,648Z" fill="#FECE65" stroke="#FECE65" stroke-width="0.6"/>
<path d="M804,652 L814,654 L822,660 L820,668 L812,674 L806,672 L798,666 L800,658Z" fill="#FEE391" stroke="#FEE391" stroke-width="0.6"/>
<path d="M792,694 L800,690 L808,692 L814,702 L810,710 L800,708 L792,704 L784,702 L784,694Z" fill="#F27E1B" stroke="#F27E1B" stroke-width="0.6"/>
<path d="M778,718 L780,708 L784,702 L792,704 L800,708 L810,710 L810,720 L806,730 L798,736 L794,742 L788,736 L780,734 L774,726 L774,722Z" fill="#FECE65" stroke="#FECE65" stroke-width="0.6"/>
<path d="M796,712 L804,710 L810,714 L810,720 L806,730 L798,736 L794,728 L795,720Z" fill="#FEB642" stroke="#FEB642" stroke-width="0.6"/>
<path d="M794,742 L798,736 L800,740 L804,746 L810,742 L816,738 L820,732 L828,736 L832,740 L830,750 L832,760 L830,770 L832,776 L824,778 L816,776 L808,780 L800,782 L796,776 L794,768 L795,762 L788,758 L780,752 L782,746 L788,744Z" fill="#FECE65" stroke="#FECE65" stroke-width="0.6"/>
<path d="M773,720 L774,724 L780,728 L783,734 L790,737 L796,740 L793,747 L788,743 L783,746 L781,751 L787,754 L793,757 L796,762 L794,767 L786,768 L776,769 L772,767 L768,760 L773,754 L770,744 L766,736 L770,734 L768,728 L760,722 L760,720Z" fill="#FECE65" stroke="#FECE65" stroke-width="0.6"/>
<path d="M814,702 L820,698 L828,700 L834,704 L833,712 L836,720 L832,728 L834,734 L828,736 L820,732 L816,738 L810,742 L804,746 L800,740 L798,736 L806,730 L810,720 L810,710Z" fill="#F27E1B" stroke="#F27E1B" stroke-width="0.6"/>
<path d="M840,654 L842,656 L848,658 L856,662 L864,666 L872,668 L880,672 L882,676 L881,682 L878,688 L868,691 L858,695 L848,697 L838,700 L834,710 L828,706 L824,700 L820,694 L824,686 L832,680 L838,670 L845,665 L840,660 L843,656Z" fill="#FE9929" stroke="#FE9929" stroke-width="0.6"/>
<path d="M834,704 L840,698 L850,696 L860,694 L870,690 L878,688 L868,691 L858,695 L848,697 L838,700 L834,710 L835,722 L832,728 L836,720 L833,712Z" fill="#FE9929" stroke="#FE9929" stroke-width="0.6"/>
<path d="M824,700 L828,706 L834,710 L835,722 L832,732 L826,734 L820,732 L812,738 L809,732 L810,720 L812,712 L818,708Z" fill="#F27E1B" stroke="#F27E1B" stroke-width="0.6"/>
<path d="M835,618 L846,614 L852,616 L850,624 L856,630 L866,630 L874,636 L881,640 L880,644 L872,646 L868,654 L869,666 L860,664 L852,660 L842,656 L840,654 L836,650 L837,642 L835,630Z" fill="#FEB642" stroke="#FEB642" stroke-width="0.6"/>
<path d="M786,620 L794,618 L802,616 L810,618 L820,616 L830,614 L835,618 L835,630 L837,642 L836,650 L840,654 L832,655 L824,652 L816,648 L810,643 L800,642 L788,640 L786,638 L788,630 L782,626Z" fill="#FFFACA" stroke="#FFFACA" stroke-width="0.6"/>
<path d="M744,604 L752,600 L764,598 L772,595 L778,600 L784,604 L796,602 L802,600 L800,608 L802,616 L794,618 L786,620 L782,626 L788,630 L786,638 L780,640 L776,638 L772,642 L764,644 L756,642 L751,636 L752,630 L750,624 L758,620 L752,614 L746,610Z" fill="#FFFACA" stroke="#FFFACA" stroke-width="0.6"/>
<path d="M800,582 L810,580 L820,582 L828,578 L836,576 L846,580 L856,586 L864,590 L872,596 L870,606 L860,612 L850,614 L840,616 L835,618 L830,614 L820,616 L810,618 L802,616 L800,608 L802,600 L798,592 L800,586Z" fill="#FFFFE5" stroke="#FFFFE5" stroke-width="0.6"/>
<path d="M848,576 L854,570 L862,569 L866,574 L860,582 L852,586 L847,582Z" fill="#D9D9D9" stroke="#D9D9D9" stroke-width="0.6"/>
<path d="M866,566 L876,564 L888,560 L887,576 L884,588 L887,595 L889,602 L893,610 L898,618 L901,624 L900,629 L890,630 L880,629 L872,630 L867,629 L866,630 L856,630 L850,624 L852,616 L860,612 L870,606 L872,596 L864,590 L860,582 L866,574Z" fill="#FFF0AE" stroke="#FFF0AE" stroke-width="0.6"/>
<path d="M887,576 L900,574 L912,575 L924,578 L924,582 L914,586 L900,590 L887,594 L884,588Z" fill="#FFFACA" stroke="#FFFACA" stroke-width="0.6"/>
<path d="M887,595 L900,591 L908,590 L906,600 L908,608 L902,616 L898,618 L893,610 L889,602Z" fill="#FEE391" stroke="#FEE391" stroke-width="0.6"/>
<path d="M869,656 L872,646 L880,645 L881,640 L890,644 L900,648 L901,658 L904,664 L904,673 L894,672 L888,677 L882,676 L878,672 L869,667Z" fill="#FEE391" stroke="#FEE391" stroke-width="0.6"/>
<path d="M880,670 L884,665 L892,664 L898,668 L896,673 L888,676 L882,676Z" fill="#D9D9D9" stroke="#D9D9D9" stroke-width="0.6"/>
<path d="M900,648 L912,652 L924,654 L936,656 L948,654 L960,652 L963,660 L970,664 L974,670 L968,672 L958,674 L956,680 L948,675 L940,671 L932,673 L924,674 L921,678 L914,676 L904,673 L904,664 L901,658Z" fill="#FFF0AE" stroke="#FFF0AE" stroke-width="0.6"/>
<path d="M900,629 L904,634 L908,640 L916,645 L926,649 L938,650 L948,650 L958,652 L960,652 L948,654 L936,656 L924,654 L912,652 L900,648 L890,644 L881,640 L874,636 L867,629 L872,630 L880,629 L890,630Z" fill="#FFF0AE" stroke="#FFF0AE" stroke-width="0.6"/>
<path d="M921,678 L924,674 L932,673 L940,671 L948,675 L956,680 L952,686 L944,689 L938,694 L932,700 L926,696 L923,688Z" fill="#FE9929" stroke="#FE9929" stroke-width="0.6"/>
<path d="M888,677 L894,672 L904,673 L914,676 L921,678 L923,688 L920,698 L914,702 L906,706 L896,708 L890,710 L886,708 L885,700 L887,692 L888,684Z" fill="#E1640E" stroke="#E1640E" stroke-width="0.6"/>
<path d="M890,710 L896,708 L906,706 L914,710 L922,714 L928,720 L928,732 L927,742 L920,746 L912,748 L904,750 L902,744 L900,737 L904,730 L906,722 L896,719 L888,718 L890,714Z" fill="#FECE65" stroke="#FECE65" stroke-width="0.6"/>
<path d="M872,718 L880,717 L888,718 L896,719 L906,722 L904,730 L900,737 L892,737 L885,740 L883,735 L878,730 L873,726 L868,721Z" fill="#E1640E" stroke="#E1640E" stroke-width="0.6"/>
<path d="M882,676 L888,677 L888,684 L887,692 L885,700 L886,708 L890,714 L888,718 L880,717 L872,718 L868,721 L864,726 L862,732 L861,740 L862,748 L863,756 L864,764 L867,767 L864,772 L858,776 L852,775 L844,774 L836,778 L828,778 L831,770 L829,760 L830,752 L835,746 L836,737 L832,732 L835,722 L834,710 L838,700 L848,697 L858,695 L868,691 L878,688 L881,682Z" fill="#882F05" stroke="#882F05" stroke-width="0.6"/>
<path d="M868,721 L873,726 L878,730 L883,735 L885,740 L883,748 L881,756 L879,762 L872,763 L867,767 L864,764 L863,756 L862,748 L861,740 L862,732 L864,726Z" fill="#662506" stroke="#662506" stroke-width="0.6"/>
<path d="M885,740 L892,737 L900,737 L902,744 L898,752 L894,756 L898,762 L896,770 L892,776 L888,784 L882,788 L878,796 L874,800 L877,808 L872,814 L866,811 L864,802 L866,794 L867,786 L860,782 L854,784 L852,780 L858,776 L864,772 L867,767 L872,763 L879,762 L881,756 L883,748Z" fill="#CC4C02" stroke="#CC4C02" stroke-width="0.6"/>
<path d="M828,778 L836,778 L844,774 L852,775 L852,780 L854,784 L860,782 L867,786 L866,794 L864,802 L866,811 L862,816 L854,820 L848,824 L844,828 L838,824 L836,816 L830,808 L822,804 L818,800 L824,792 L825,784Z" fill="#E1640E" stroke="#E1640E" stroke-width="0.6"/>
<path d="M800,778 L808,779 L818,776 L828,778 L825,784 L824,792 L818,800 L822,804 L830,808 L836,816 L838,824 L834,830 L826,828 L818,824 L814,828 L808,834 L800,836 L796,830 L798,820 L796,812 L793,800 L793,790 L796,782Z" fill="#F27E1B" stroke="#F27E1B" stroke-width="0.6"/>
<path d="M896,770 L904,772 L914,774 L922,778 L924,784 L916,788 L912,794 L906,800 L900,804 L892,806 L884,810 L877,808 L874,800 L878,796 L882,788 L888,784 L892,776Z" fill="#FEB642" stroke="#FEB642" stroke-width="0.6"/>
<path d="M896,758 L908,762 L914,768 L922,770 L928,772 L926,778 L922,778 L914,774 L904,772 L896,770Z" fill="#D9D9D9" stroke="#D9D9D9" stroke-width="0.6"/>
<path d="M982,703 L990,702 L996,708 L1000,716 L993,722 L988,718 L980,710Z" fill="#F27E1B" stroke="#F27E1B" stroke-width="0.6"/>
<path d="M690,553 L696,555 L700,562 L706,568 L704,576 L707,579 L700,584 L698,592 L704,598 L700,603 L693,606 L688,602 L680,599 L674,598 L677,592 L674,588 L677,584 L670,582 L668,573 L676,574 L684,570 L690,566 L689,560Z" fill="#AA3C03" stroke="#AA3C03" stroke-width="0.6"/>
<path d="M735,786 L742,777 L747,781 L751,776 L757,778 L764,780 L770,777 L773,772 L772,767 L776,769 L786,768 L794,767 L798,772 L800,778 L794,784 L791,792 L793,800 L788,804 L780,808 L774,804 L766,800 L760,792 L756,799 L750,797 L744,800 L738,798 L738,792Z" fill="#FEE391" stroke="#FEE391" stroke-width="0.6"/>
<path d="M794,767 L796,762 L793,757 L787,754 L781,751 L783,746 L788,743 L793,747 L796,740 L798,746 L804,748 L809,740 L820,738 L824,732 L832,734 L836,742 L834,750 L830,760 L828,770 L828,778 L820,776 L810,780 L800,778 L798,772Z" fill="#FECE65" stroke="#FECE65" stroke-width="0.6"/>
<path d="M756,799 L760,792 L766,800 L774,804 L780,808 L776,814 L768,810 L764,816 L760,826 L760,833 L755,828 L751,822 L752,818 L755,810 L758,804Z" fill="#FFF0AE" stroke="#FFF0AE" stroke-width="0.6"/>
<path d="M756,799 L758,804 L755,810 L752,818 L751,822 L755,828 L760,833 L760,826 L762,818 L764,812 L762,804Z" fill="#FFFACA" stroke="#FFFACA" stroke-width="0.6"/>
<path d="M780,808 L788,804 L793,800 L793,810 L796,820 L798,828 L788,824 L780,820 L776,814Z" fill="#FEE391" stroke="#FEE391" stroke-width="0.6"/>
<path d="M800,778 L810,780 L820,776 L828,778 L840,780 L840,830 L834,833 L828,835 L820,829 L816,824 L810,828 L806,834 L800,837 L798,828 L796,820 L793,810 L793,800 L791,792 L794,784Z" fill="#F27E1B" stroke="#F27E1B" stroke-width="0.6"/>
<path d="M828,778 L840,780 L844,790 L848,800 L846,812 L848,824 L840,830 L840,824 L832,816 L828,808 L820,804 L818,798 L824,790 L826,784Z" fill="#E1640E" stroke="#E1640E" stroke-width="0.6"/>
<path d="M735,786 L738,792 L738,798 L744,800 L750,797 L756,799 L758,804 L755,810 L752,818 L751,822 L755,828 L760,833 L758,840 L755,846 L756,852 L760,856 L766,854 L770,860 L778,862 L786,861 L791,864 L792,871 L786,876 L779,882 L773,880 L766,886 L760,893 L752,896 L746,894 L742,902 L735,895 L732,900 L728,895 L722,903 L716,898 L710,896 L706,899 L700,896 L694,894 L696,886 L700,880 L704,876 L702,868 L704,862 L714,862 L722,858 L722,844 L718,842 L716,850 L708,852 L704,854 L704,842 L706,832 L708,820 L706,812 L711,804 L716,807 L722,800 L726,792 L732,788Z" fill="#FFF0AE" stroke="#FFF0AE" stroke-width="0.6"/>
<path d="M676,806 L684,803 L692,808 L695,812 L700,809 L706,812 L708,820 L706,832 L704,842 L698,842 L696,850 L694,856 L688,858 L680,854 L676,848 L670,842 L671,834 L676,828 L674,818Z" fill="#FEE391" stroke="#FEE391" stroke-width="0.6"/>
<path d="M622,818 L628,822 L636,826 L642,834 L652,835 L658,842 L664,848 L664,860 L661,870 L656,880 L648,884 L641,887 L630,886 L628,878 L625,869 L628,861 L624,858 L624,850 L620,846 L616,840 L612,834 L610,831 L614,823Z" fill="#FECE65" stroke="#FECE65" stroke-width="0.6"/>
<path d="M610,831 L612,834 L616,840 L620,846 L624,850 L624,858 L628,861 L620,864 L608,865 L600,869 L597,864 L603,859 L598,852 L597,845 L602,842 L602,836Z" fill="#FEB642" stroke="#FEB642" stroke-width="0.6"/>
<path d="M755,846 L760,842 L768,839 L773,842 L780,844 L786,847 L792,840 L800,837 L806,840 L804,848 L808,858 L816,864 L826,868 L829,874 L826,880 L818,882 L808,884 L806,884 L805,892 L798,891 L790,892 L784,889 L778,883 L779,882 L786,876 L792,871 L791,864 L786,861 L778,862 L770,860 L766,854 L760,856 L756,852Z" fill="#FEB642" stroke="#FEB642" stroke-width="0.6"/>
<path d="M803,840 L800,836 L806,830 L812,825 L818,830 L824,828 L830,834 L836,828 L844,826 L848,828 L852,823 L858,820 L872,820 L871,830 L869,840 L874,846 L880,850 L878,854 L872,860 L864,865 L856,860 L850,855 L844,863 L838,868 L829,874 L826,868 L816,864 L808,858 L805,850Z" fill="#FEE391" stroke="#FEE391" stroke-width="0.6"/>
<path d="M872,820 L880,816 L890,814 L900,812 L907,820 L904,828 L900,834 L902,839 L900,846 L894,854 L890,856 L884,852 L880,850 L874,846 L869,840 L871,830Z" fill="#FFF0AE" stroke="#FFF0AE" stroke-width="0.6"/>
<path d="M846,840 L848,824 L854,820 L862,816 L866,811 L872,814 L871,820 L869,828 L870,840Z" fill="#FEE391" stroke="#FEE391" stroke-width="0.6"/>
<path d="M872,814 L877,808 L884,810 L892,806 L900,804 L906,806 L910,816 L906,820 L904,830 L900,836 L901,840 L870,840 L869,828 L871,820Z" fill="#FFF0AE" stroke="#FFF0AE" stroke-width="0.6"/>
<path d="M902,839 L909,837 L912,846 L920,845 L923,846 L924,854 L921,863 L918,867 L914,865 L908,860 L903,869 L898,870 L894,862 L890,856 L894,854 L900,846Z" fill="#FEB642" stroke="#FEB642" stroke-width="0.6"/>
<path d="M829,874 L838,868 L844,863 L850,866 L852,874 L860,880 L870,876 L876,870 L884,867 L890,872 L892,880 L888,886 L878,890 L872,896 L864,900 L856,900 L848,904 L840,908 L835,904 L832,896 L826,890 L820,888 L818,882 L826,880Z" fill="#FFFFE5" stroke="#FFFFE5" stroke-width="0.6"/>
<path d="M871,926 L877,919 L886,918 L888,924 L892,930 L900,932 L894,940 L892,950 L893,962 L875,962 L869,946 L869,936Z" fill="#FFFFE5" stroke="#FFFFE5" stroke-width="0.6"/>
<path d="M912,794 L916,788 L920,792 L926,800 L930,808 L928,814 L930,824 L930,836 L924,840 L912,840 L906,836 L904,830 L906,820 L910,816 L906,806 L900,804 L906,800Z" fill="#FEE391" stroke="#FEE391" stroke-width="0.6"/>
<path d="M945,834 L944,830 L950,826 L955,829 L962,828 L968,830 L976,830 L983,832 L984,836 L978,842 L973,846 L974,854 L976,860 L970,866 L964,865 L963,856 L958,852 L950,853 L944,848 L942,840Z" fill="#FFFACA" stroke="#FFFACA" stroke-width="0.6"/>
<path d="M964,865 L970,866 L976,868 L982,874 L986,882 L1000,878 L1010,876 L1018,870 L1022,876 L1018,884 L1020,893 L1012,895 L1004,899 L996,897 L988,901 L982,899 L978,902 L972,896 L964,888 L958,888 L957,896 L960,900 L959,908 L957,914 L950,920 L946,918 L941,922 L934,926 L930,918 L924,912 L926,904 L932,898 L940,890 L944,880 L952,874 L960,870Z" fill="#FFFFE5" stroke="#FFFFE5" stroke-width="0.6"/>
<path d="M1000,845 L1008,850 L1009,840 L1018,842 L1026,846 L1030,852 L1030,860 L1024,868 L1018,870 L1010,876 L1000,878 L999,870 L1000,860 L1003,852Z" fill="#FFFFE5" stroke="#FFFFE5" stroke-width="0.6"/>
<path d="M950,897 L956,896 L960,900 L958,908 L952,910 L948,904Z" fill="#D9D9D9" stroke="#D9D9D9" stroke-width="0.6"/>
<path d="M952,910 L958,908 L957,914 L950,918 L948,912Z" fill="#FFFACA" stroke="#FFFACA" stroke-width="0.6"/>
<path d="M958,888 L964,888 L972,896 L978,902 L972,908 L966,908 L962,899 L960,900 L957,896Z" fill="#D9D9D9" stroke="#D9D9D9" stroke-width="0.6"/>
<path d="M956,680 L958,674 L968,672 L974,670 L980,667 L984,673 L984,690 L980,696 L966,690 L956,692Z" fill="#FFF0AE" stroke="#FFF0AE" stroke-width="0.6"/>
<path d="M984,673 L992,672 L998,672 L1000,675 L1008,680 L1014,686 L1008,692 L1009,698 L1013,706 L1015,716 L1008,718 L1000,717 L996,708 L990,702 L982,703 L980,696 L984,690Z" fill="#FFFACA" stroke="#FFFACA" stroke-width="0.6"/>
<path d="M906,706 L914,702 L920,698 L924,692 L932,700 L939,695 L947,689 L955,681 L957,692 L950,698 L946,700 L940,696 L936,698 L934,704 L934,712 L928,720 L922,714 L914,710Z" fill="#FECE65" stroke="#FECE65" stroke-width="0.6"/>
<path d="M942,698 L948,691 L956,684 L956,692 L966,690 L980,696 L980,702 L972,706 L966,710 L962,706 L952,700 L947,699Z" fill="#FFF0AE" stroke="#FFF0AE" stroke-width="0.6"/>
<path d="M943,692 L950,690 L956,694 L955,700 L948,702 L943,698Z" fill="#FEE391" stroke="#FEE391" stroke-width="0.6"/>
<path d="M960,717 L966,710 L972,706 L980,702 L982,708 L986,716 L992,722 L988,724 L980,727 L968,734 L964,731 L960,724Z" fill="#FECE65" stroke="#FECE65" stroke-width="0.6"/>
<path d="M928,720 L934,712 L934,700 L940,695 L947,698 L952,700 L962,706 L966,710 L960,717 L958,720 L948,724 L944,716 L938,719Z" fill="#FECE65" stroke="#FECE65" stroke-width="0.6"/>
<path d="M980,700 L984,695 L990,697 L992,702 L988,704 L982,703Z" fill="#FECE65" stroke="#FECE65" stroke-width="0.6"/>
<path d="M935,697 L940,695 L945,698 L944,706 L938,708 L934,703Z" fill="#D9D9D9" stroke="#D9D9D9" stroke-width="0.6"/>
<path d="M982,703 L990,702 L996,708 L1000,716 L993,722 L988,718 L980,710Z" fill="#F27E1B" stroke="#F27E1B" stroke-width="0.6"/>
</g>
<path d="M59,471 L67,468 L66,460 L70,454 L80,450 L88,447 L89,443 L98,443 L104,439 L107,441 L109,447 L117,446 L123,445 L126,440 L131,438 L132,431 L138,428 L146,430 L154,430 L155,427 L162,425 L163,421 L168,421 L176,417 L184,413 L192,408 L200,406 L206,402 L212,397 L209,392 L210,384 L214,381 L222,376 L223,371 L218,360 L214,348 L213,338 L203,331 L206,327 L218,325 L230,322 L244,319 L248,322 L258,323 L263,320 L256,314 L257,306 L262,294 L268,282 L273,272 L284,275 L298,277 L310,277 L316,280 L322,276 L332,274 L332,264 L330,254 L329,248 L333,241 L346,239 L356,234 L356,226 L360,222 L380,221 L382,226 L379,230 L385,234 L392,240 L400,247 L412,251 L420,251 L423,255 L430,255 L438,262 L441,270 L450,280 L453,288 L450,294 L452,300 L446,308 L444,314 L448,322 L460,325 L474,326 L490,327 L504,329 L516,334 L530,341 L542,346 L550,347 L550,352 L554,354 L560,368 L564,375 L571,380 L572,385 L590,384 L600,386 L614,388 L632,390 L646,390 L660,388 L676,388 L688,390 L696,394 L702,400 L714,400 L726,406 L740,409 L755,408 L756,412 L765,415 L774,409 L790,402 L806,397 L820,393 L836,394 L850,393 L866,393 L874,389 L886,384 L893,378 L900,371 L908,368 L917,364 L922,360 L918,354 L912,349 L910,344 L912,339 L915,331 L922,326 L932,326 L940,332 L950,334 L958,334 L968,330 L975,325 L980,318 L984,316 L990,318 L1000,318 L1010,314 L1018,309 L1019,302 L1026,295 L1044,292 L1045,288 L1050,289 L1064,284 L1076,284 L1080,285 L1088,287 L1100,285 L1100,278 L1095,271 L1086,264 L1078,258 L1071,252 L1062,250 L1054,251 L1044,260 L1034,255 L1020,255 L1012,259 L1003,251 L1003,247 L1008,245 L1009,238 L1018,222 L1029,205 L1040,209 L1053,212 L1064,207 L1074,202 L1086,199 L1088,193 L1083,190 L1089,180 L1097,170 L1103,158 L1112,151 L1118,147 L1118,135 L1110,133 L1104,134 L1104,129 L1112,125 L1120,117 L1132,116 L1144,113 L1156,111 L1170,110 L1182,110 L1192,113 L1200,116 L1210,120 L1220,119 L1229,123 L1234,129 L1240,135 L1246,143 L1250,152 L1255,160 L1259,167 L1259,174 L1266,182 L1268,190 L1273,195 L1271,203 L1276,209 L1286,211 L1296,210 L1306,215 L1315,215 L1322,220 L1328,226 L1335,229 L1342,230 L1340,236 L1345,241 L1342,248 L1347,254 L1350,259 L1362,260 L1372,258 L1385,258 L1387,253 L1396,248 L1406,246 L1414,243 L1424,242 L1433,242 L1441,240 L1434,244 L1430,249 L1431,254 L1434,258 L1430,262 L1429,266 L1423,268 L1421,274 L1419,282 L1416,290 L1413,296 L1408,304 L1404,312 L1398,316 L1397,324 L1393,327 L1384,326 L1376,323 L1369,320 L1360,326 L1350,332 L1353,340 L1356,350 L1355,360 L1356,367 L1354,374 L1351,382 L1344,384 L1338,387 L1341,393 L1336,389 L1332,383 L1326,379 L1323,384 L1320,392 L1310,396 L1304,403 L1294,404 L1283,405 L1285,412 L1289,416 L1284,421 L1276,419 L1266,417 L1258,410 L1251,414 L1246,422 L1238,430 L1231,433 L1228,436 L1220,440 L1210,448 L1200,456 L1195,461 L1186,462 L1176,464 L1166,467 L1156,472 L1150,477 L1144,480 L1138,482 L1128,488 L1127,483 L1134,481 L1140,478 L1140,473 L1134,473 L1130,469 L1133,464 L1136,459 L1142,455 L1148,450 L1152,443 L1150,439 L1145,435 L1136,434 L1128,435 L1123,439 L1118,444 L1112,450 L1104,453 L1098,456 L1092,459 L1087,464 L1084,471 L1078,477 L1070,482 L1066,480 L1060,476 L1056,480 L1053,486 L1050,492 L1055,498 L1060,501 L1068,504 L1076,503 L1080,507 L1085,512 L1084,516 L1079,518 L1079,523 L1084,527 L1090,529 L1097,528 L1100,522 L1105,519 L1108,514 L1116,512 L1122,511 L1128,516 L1134,517 L1138,520 L1146,520 L1150,519 L1156,522 L1163,522 L1161,528 L1159,535 L1152,536 L1148,534 L1140,537 L1134,540 L1128,542 L1122,546 L1118,552 L1110,556 L1106,562 L1100,566 L1094,570 L1091,576 L1086,581 L1085,587 L1092,593 L1102,598 L1110,602 L1114,612 L1120,626 L1124,640 L1132,648 L1134,652 L1135,655 L1142,659 L1144,662 L1146,667 L1147,673 L1143,673 L1137,673 L1132,670 L1128,667 L1132,672 L1137,676 L1143,679 L1147,681 L1151,678 L1147,683 L1147,690 L1149,694 L1151,695 L1147,692 L1137,691 L1131,693 L1127,696 L1126,698 L1129,700 L1133,702 L1137,706 L1140,710 L1144,712 L1146,716 L1143,720 L1147,722 L1146,728 L1145,732 L1147,736 L1148,740 L1145,743 L1140,735 L1138,733 L1141,740 L1143,744 L1138,746 L1139,752 L1134,758 L1128,762 L1124,768 L1118,774 L1115,781 L1110,786 L1106,792 L1100,796 L1097,804 L1094,812 L1094,820 L1098,826 L1090,830 L1082,835 L1078,840 L1072,846 L1064,852 L1059,857 L1054,863 L1044,874 L1037,878 L1028,886 L1020,891 L1012,893 L1004,897 L996,895 L988,899 L982,897 L978,902 L972,908 L966,908 L962,899 L959,908 L957,914 L950,918 L946,916 L941,920 L934,924 L927,920 L920,923 L912,927 L904,929 L898,931 L892,936 L887,938 L883,942 L886,948 L890,954 L891,958 L884,959 L877,960 L874,954 L871,946 L871,938 L874,932 L873,924 L868,929 L859,930 L856,926 L848,924 L840,927 L836,928 L830,925 L820,924 L814,919 L808,916 L803,912 L803,906 L801,902 L806,897 L805,892 L800,890 L792,892 L784,889 L778,884 L772,882 L766,888 L760,892 L752,896 L746,894 L742,902 L735,895 L732,900 L728,895 L722,903 L716,898 L710,896 L706,899 L700,904 L692,904 L689,910 L692,918 L694,926 L693,936 L686,935 L681,936 L680,928 L678,922 L670,926 L664,928 L658,929 L655,924 L652,918 L649,914 L640,912 L635,911 L638,904 L640,896 L643,892 L641,887 L630,886 L628,878 L625,869 L628,861 L620,862 L608,863 L600,867 L599,864 L605,859 L600,852 L599,845 L604,842 L604,836 L610,831 L614,823 L622,818 L624,811 L626,800 L625,788 L625,774 L620,771 L616,773 L613,763 L613,755 L609,756 L604,750 L599,749 L595,758 L593,766 L588,768 L582,763 L574,759 L566,757 L560,755 L552,758 L546,764 L544,765 L534,770 L525,773 L520,779 L515,784 L514,788 L504,790 L492,790 L477,791 L476,785 L477,780 L474,776 L466,774 L464,766 L460,761 L455,766 L448,762 L440,761 L432,758 L425,756 L419,759 L413,766 L409,772 L410,778 L406,782 L402,777 L404,768 L403,761 L398,760 L390,763 L380,766 L372,766 L364,766 L358,761 L353,760 L347,763 L342,759 L340,764 L335,758 L332,753 L326,755 L320,751 L319,746 L312,746 L306,742 L300,738 L298,730 L294,728 L286,732 L280,724 L272,719 L264,714 L254,708 L251,702 L242,700 L237,700 L232,711 L229,707 L224,702 L216,698 L207,696 L202,691 L196,687 L191,684 L182,683 L177,674 L177,662 L171,654 L169,646 L176,642 L177,647 L183,651 L189,644 L186,631 L180,624 L176,617 L175,607 L182,600 L178,598 L170,595 L165,590 L162,580 L161,571 L156,571 L146,571 L138,568 L130,564 L126,560 L120,562 L118,558 L113,556 L115,552 L114,545 L109,539 L103,539 L100,535 L90,533 L82,531 L81,527 L88,525 L95,523 L93,518 L90,510 L88,500 L89,495 L83,491 L74,490 L73,493 L68,493 L64,488 L66,482 L61,476Z" fill="none" stroke="#5a5a5c" stroke-width="1" stroke-linejoin="round" shape-rendering="crispEdges"/>
<path d="M1137,831 L1147,837 L1143,846 L1142,856 L1139,866 L1136,878 L1132,890 L1126,900 L1123,908 L1121,917 L1118,916 L1116,907 L1110,902 L1106,894 L1103,888 L1105,876 L1108,868 L1114,856 L1120,844 L1126,836Z" fill="none" stroke="#5a5a5c" stroke-width="1" stroke-linejoin="round" shape-rendering="crispEdges"/>
<path d="M894,963 L900,966 L902,976 L896,980 L892,988 L891,997 L884,1002 L879,1008 L872,1013 L866,1013 L858,1009 L848,1006 L846,994 L846,985 L854,978 L860,970 L870,966 L882,965Z" fill="none" stroke="#5a5a5c" stroke-width="1" stroke-linejoin="round" shape-rendering="crispEdges"/>
<path d="M182,600 L190,598 L201,596 L204,586 L209,578 L213,574 L224,575 L232,574 L240,577 L250,574 L252,569 L258,566 L268,565 L272,571 L280,574 L290,574 L298,573 L306,569 L316,565 L328,566 L330,566 L338,563 L344,555 L354,552 L366,549 L380,547 L392,546 L400,549 L410,551 L418,555" fill="none" stroke="#5a5a5c" stroke-width="1" stroke-linejoin="round" shape-rendering="crispEdges"/>
<path d="M418,555 L424,555 L430,551 L438,553 L448,557 L454,555 L452,545 L446,542 L447,536 L454,533 L458,530 L455,523 L450,518 L441,514 L440,498 L434,499 L432,495 L442,490 L458,486 L470,483 L483,479 L482,475 L488,468 L490,460 L493,450 L495,442 L514,438 L514,434 L520,426 L528,418 L536,416 L543,410 L548,415 L549,412 L558,408 L566,405 L567,398 L564,394 L566,388 L572,385" fill="none" stroke="#5a5a5c" stroke-width="1" stroke-linejoin="round" shape-rendering="crispEdges"/>
<path d="M483,479 L498,477 L501,483 L514,484 L515,487 L527,488 L531,497 L540,496 L549,499 L558,497 L568,503 L573,499 L578,500 L579,494 L587,490 L585,482 L587,477 L595,477 L604,482 L611,485 L616,480 L622,482 L626,479 L633,483 L640,489 L647,495 L657,500 L655,494 L660,497 L670,502 L674,506 L683,511 L696,514 L702,522 L710,528 L708,532 L713,538 L712,542 L717,547 L720,552 L718,560 L714,568 L708,570 L707,579 L700,584 L698,592 L704,598 L700,603 L693,606 L688,602 L680,599 L674,598 L671,600 L672,606 L678,610 L686,615 L693,619 L695,620 L693,624 L690,630 L683,628 L679,632 L678,642" fill="none" stroke="#5a5a5c" stroke-width="1" stroke-linejoin="round" shape-rendering="crispEdges"/>
<path d="M590,384 L598,400 L606,413 L600,418 L606,426 L616,432 L617,441 L622,438 L626,440 L627,436 L633,438 L635,434 L646,433 L655,433 L658,439 L657,448 L650,454 L644,458 L640,458 L652,461 L660,466 L666,471 L672,472 L673,480 L680,481 L683,486 L690,490 L693,490 L700,484 L695,480 L706,476 L716,478 L728,473 L740,469 L745,470 L748,478 L743,484 L740,490 L732,496 L729,506 L736,512 L743,517 L748,521 L751,520" fill="none" stroke="#5a5a5c" stroke-width="1" stroke-linejoin="round" shape-rendering="crispEdges"/>
<path d="M751,520 L758,519 L768,516 L782,512 L784,500 L786,488 L790,480 L794,475 L801,472 L806,471 L809,480 L804,488 L799,499 L806,502 L814,503 L820,508 L825,512 L818,516 L817,522 L818,530 L809,529 L802,531 L802,538 L799,544 L800,550 L808,554 L809,560 L804,564 L799,568 L796,576 L788,572 L784,568 L775,564 L774,558 L777,555 L776,550 L772,540 L766,532 L758,525 L751,520" fill="none" stroke="#5a5a5c" stroke-width="1" stroke-linejoin="round" shape-rendering="crispEdges"/>
<path d="M825,512 L832,514 L838,516 L844,513 L850,512 L851,506 L855,507 L856,498 L860,492 L866,486 L872,480 L876,475 L882,474 L881,470 L887,473 L892,470 L898,468 L904,468 L908,469 L912,465 L922,465 L927,454 L932,449 L936,451 L943,450 L950,445 L958,446 L966,442 L971,438 L969,433 L964,428 L967,424 L966,418 L973,416 L976,408 L980,401 L987,402 L988,414 L997,415 L1004,410 L1010,407 L1016,408 L1022,403 L1031,400 L1034,393 L1044,390 L1051,388 L1057,393 L1059,400 L1064,406 L1062,414 L1066,420 L1076,421 L1084,423 L1084,420 L1088,410 L1087,399 L1092,395 L1098,402 L1104,412 L1112,403 L1120,399 L1128,396 L1134,393 L1144,391 L1150,387 L1156,385 L1164,383 L1172,380 L1182,378 L1185,370 L1177,366 L1181,364 L1180,358 L1177,350 L1172,341 L1164,345 L1153,347 L1150,334 L1152,322 L1148,317 L1146,311 L1140,309 L1142,303 L1150,303 L1154,307 L1158,304 L1163,309 L1166,301 L1171,300 L1173,295 L1169,290 L1172,287 L1184,285 L1183,279 L1178,278 L1174,284 L1168,283 L1164,276 L1157,268 L1166,260 L1178,254 L1188,246 L1198,238 L1202,249 L1205,248 L1204,240 L1208,230 L1212,222 L1219,222 L1220,216 L1218,210 L1219,204 L1221,196 L1229,188 L1233,182 L1238,175 L1230,167 L1223,160 L1217,159 L1210,164 L1202,167 L1192,166 L1184,166 L1178,168 L1169,166 L1165,158 L1162,148 L1164,143 L1158,140 L1151,137 L1144,142 L1138,137 L1129,134 L1138,128 L1142,121 L1138,115" fill="none" stroke="#5a5a5c" stroke-width="1" stroke-linejoin="round" shape-rendering="crispEdges"/>
<path d="M904,468 L905,475 L901,480 L900,488 L897,494 L890,502 L891,510 L895,515 L893,526 L888,532 L888,546 L889,552 L891,562 L888,572 L885,580 L884,590 L887,595 L889,602 L893,610 L898,618 L901,624 L900,629 L890,630 L880,629 L872,630 L867,629 L874,636 L881,639 L880,645 L872,646 L870,654 L869,666 L878,672 L882,676" fill="none" stroke="#5a5a5c" stroke-width="1" stroke-linejoin="round" shape-rendering="crispEdges"/>
<path d="M971,438 L979,447 L970,450 L967,455 L976,458 L979,466 L977,476 L968,480 L962,486 L958,492 L958,500 L964,506 L970,516 L966,526 L962,535 L956,540 L962,549 L960,560 L958,566 L952,570 L946,573 L940,576 L932,577 L925,579 L918,582 L908,587 L896,591 L887,595" fill="none" stroke="#5a5a5c" stroke-width="1" stroke-linejoin="round" shape-rendering="crispEdges"/>
<path d="M961,552 L968,550 L976,553 L984,555 L992,554 L998,555 L1000,560 L999,552 L997,544 L1004,538 L1010,530 L1015,523 L1023,518 L1030,513 L1040,511 L1048,507 L1055,500" fill="none" stroke="#5a5a5c" stroke-width="1" stroke-linejoin="round" shape-rendering="crispEdges"/>
<path d="M1000,560 L998,563 L992,572 L986,580 L990,585 L998,588 L1002,594 L1016,594 L1020,599 L1025,603 L1027,610 L1023,613 L1017,616 L1013,609 L1004,608 L1003,618 L997,621 L996,630 L988,632 L990,638 L996,644 L1002,648 L1010,648 L1010,665 L998,670" fill="none" stroke="#5a5a5c" stroke-width="1" stroke-linejoin="round" shape-rendering="crispEdges"/>
<path d="M1017,595 L1021,593 L1023,587 L1031,586 L1036,590 L1040,596 L1046,597 L1052,594 L1059,593 L1062,599 L1068,591 L1074,588 L1078,582 L1085,582" fill="none" stroke="#5a5a5c" stroke-width="1" stroke-linejoin="round" shape-rendering="crispEdges"/>
<path d="M1021,593 L1028,598 L1034,604 L1044,606 L1051,609 L1052,615 L1061,616 L1060,624 L1057,628 L1062,631 L1064,640 L1070,642 L1075,638 L1080,635 L1085,640 L1084,646 L1078,648 L1072,645 L1070,653 L1066,660 L1072,668 L1077,672 L1076,679 L1086,678 L1093,682 L1099,682 L1106,687 L1113,690 L1122,685 L1126,676 L1129,673 L1136,670" fill="none" stroke="#5a5a5c" stroke-width="1" stroke-linejoin="round" shape-rendering="crispEdges"/>
<path d="M1122,685 L1127,690 L1138,691" fill="none" stroke="#5a5a5c" stroke-width="1" stroke-linejoin="round" shape-rendering="crispEdges"/>
<path d="M1093,682 L1090,690 L1086,696 L1087,702 L1078,704 L1076,712 L1070,720 L1062,726 L1054,722 L1046,720 L1040,714 L1036,717 L1030,721 L1028,718 L1032,713 L1029,710 L1024,714 L1015,716 L1013,706 L1009,698 L1008,692 L1014,686 L1008,680 L1000,675 L998,670" fill="none" stroke="#5a5a5c" stroke-width="1" stroke-linejoin="round" shape-rendering="crispEdges"/>
<path d="M900,629 L904,634 L908,640 L916,645 L926,649 L938,650 L948,650 L958,652 L962,650 L963,660 L970,665 L976,668 L980,667 L984,673 L992,672 L998,670" fill="none" stroke="#5a5a5c" stroke-width="1" stroke-linejoin="round" shape-rendering="crispEdges"/>
<path d="M1015,716 L1008,718 L1000,717 L993,722 L986,726 L976,729 L970,734 L967,735 L966,734 L960,728 L960,720 L954,717 L948,724 L944,716 L938,719 L928,720 L922,716 L914,712 L906,709 L896,708 L890,710 L888,718 L880,717 L872,718 L868,721 L864,726 L862,732 L861,740 L862,748 L863,756 L864,764 L867,767" fill="none" stroke="#5a5a5c" stroke-width="1" stroke-linejoin="round" shape-rendering="crispEdges"/>
<path d="M967,735 L971,742 L972,752 L969,760 L960,768 L959,776 L964,780 L966,792 L970,800 L969,810 L966,820 L967,828 L976,830 L983,832 L984,836 L978,840 L973,848 L978,850 L990,847 L1000,845 L1007,850 L1009,842 L1011,836 L1010,830 L1015,818 L1020,812 L1023,804 L1026,800 L1025,791 L1034,786 L1038,780 L1036,772 L1042,766 L1048,763 L1052,765 L1060,760 L1067,756 L1068,748 L1064,742 L1059,735 L1062,726" fill="none" stroke="#5a5a5c" stroke-width="1" stroke-linejoin="round" shape-rendering="crispEdges"/>
<path d="M1067,756 L1074,757 L1078,768 L1079,775 L1086,777 L1093,771 L1096,778 L1102,779 L1111,778 L1111,784" fill="none" stroke="#5a5a5c" stroke-width="1" stroke-linejoin="round" shape-rendering="crispEdges"/>
<path d="M1009,842 L1020,842 L1030,848 L1034,858 L1034,865 L1038,875" fill="none" stroke="#5a5a5c" stroke-width="1" stroke-linejoin="round" shape-rendering="crispEdges"/>
<path d="M967,828 L962,828 L955,829 L950,826 L944,830 L945,834 L942,840 L937,836 L930,834 L927,839 L923,846 L924,854 L921,863 L918,867 L912,872 L908,880 L910,888 L908,895 L900,898 L894,902 L893,908 L886,911 L886,918 L877,919 L873,924" fill="none" stroke="#5a5a5c" stroke-width="1" stroke-linejoin="round" shape-rendering="crispEdges"/>
<path d="M923,846 L920,845 L912,846 L909,837 L902,839 L900,834 L904,828 L907,820 L910,816 L906,806 L900,804 L892,806 L884,810 L877,808 L872,814 L866,811 L864,802 L866,794 L867,786 L860,782 L854,784 L852,780 L858,776 L864,772 L867,767" fill="none" stroke="#5a5a5c" stroke-width="1" stroke-linejoin="round" shape-rendering="crispEdges"/>
<path d="M866,811 L862,816 L854,820 L848,824 L844,828 L840,830 L834,833 L828,835 L820,829 L816,824 L810,828 L806,834 L800,837 L792,840 L786,847 L780,844 L773,842 L768,839 L760,842 L755,846 L756,852 L760,856 L766,854 L770,860 L778,862 L786,861 L791,864 L792,871 L786,876 L779,882" fill="none" stroke="#5a5a5c" stroke-width="1" stroke-linejoin="round" shape-rendering="crispEdges"/>
<path d="M755,846 L758,840 L760,833 L755,828 L751,822 L752,818 L755,810 L758,804 L756,799 L750,797 L744,800 L738,798 L738,792 L735,786 L742,777 L747,781 L751,776 L757,778 L764,780 L770,777 L773,772 L772,767 L768,760 L763,763 L757,765 L752,760 L749,752 L750,746 L740,747 L739,753 L732,758 L730,766 L726,775 L719,778 L718,784 L720,790 L722,800 L716,807 L711,804 L706,806 L700,809 L695,812 L692,808 L686,799 L687,794 L680,788 L677,780 L670,770 L666,765 L660,768 L654,759 L656,757 L652,749 L647,741 L642,748 L639,757 L636,750 L633,740 L631,732 L628,737 L623,739 L624,748 L622,757 L617,758 L613,755" fill="none" stroke="#5a5a5c" stroke-width="1" stroke-linejoin="round" shape-rendering="crispEdges"/>
<path d="M633,740 L632,730 L630,722 L628,713 L629,706 L630,698 L628,688 L623,680 L626,676 L620,666 L616,656 L612,650 L604,646 L596,644 L594,637 L598,630 L601,625 L597,622 L595,612 L602,606 L607,603 L618,608 L622,618 L630,628 L636,634 L640,639 L649,636 L656,643 L662,640 L670,644 L678,642 L679,632 L683,628 L690,630 L695,620 L702,622 L709,618 L704,610 L712,606 L720,602 L724,612 L730,616 L738,616 L746,618 L750,624 L752,630 L751,636 L756,642 L764,644 L772,642 L776,638 L780,640 L786,638 L788,630 L782,626 L786,620 L794,618 L802,616 L800,608 L802,600 L798,592 L800,586 L800,582 L796,576" fill="none" stroke="#5a5a5c" stroke-width="1" stroke-linejoin="round" shape-rendering="crispEdges"/>
<path d="M418,555 L416,558 L424,562 L423,570 L417,576 L420,585 L426,588 L423,592 L426,600 L421,607 L426,613 L430,619 L438,626 L446,631 L456,630 L466,634 L474,639 L486,640 L496,642 L506,646 L514,646 L522,648 L532,642 L538,647 L546,651 L550,656 L552,663 L560,667 L567,662 L568,670 L573,663 L580,667 L582,660 L592,658 L594,651 L596,644" fill="none" stroke="#5a5a5c" stroke-width="1" stroke-linejoin="round" shape-rendering="crispEdges"/>
<path d="M786,638 L788,640 L800,642 L810,643 L816,648 L824,652 L832,655 L840,654 L843,656 L852,660 L860,665 L869,667" fill="none" stroke="#5a5a5c" stroke-width="1" stroke-linejoin="round" shape-rendering="crispEdges"/>
<path d="M844,656 L840,668 L830,680 L822,692 L818,704 L814,710 L806,709 L800,704 L792,706 L784,701 L779,708 L773,720 L779,728 L784,738 L794,742 L797,738 L800,747 L803,748" fill="none" stroke="#5a5a5c" stroke-width="1" stroke-linejoin="round" shape-rendering="crispEdges"/>
<path d="M772,767 L776,769 L786,768 L794,767 L796,762 L793,757 L787,754 L781,751 L783,746 L788,743 L793,747 L796,740 L798,746 L804,748 L809,740 L820,738 L824,732 L832,734 L836,742" fill="none" stroke="#5a5a5c" stroke-width="1" stroke-linejoin="round" shape-rendering="crispEdges"/>
<path d="M882,676 L881,682 L878,688 L868,691 L858,695 L848,697 L843,700 L845,710 L843,716 L849,720 L852,728 L858,732 L860,740 L861,748 L858,757 L854,758 L850,752 L847,748 L848,756 L843,750 L841,742 L838,734" fill="none" stroke="#5a5a5c" stroke-width="1" stroke-linejoin="round" shape-rendering="crispEdges"/>
<path d="M1185,370 L1187,367 L1192,372 L1200,379 L1202,382 L1209,377 L1212,376 L1214,384 L1218,392 L1223,401 L1221,408 L1225,416 L1231,427 L1230,432" fill="none" stroke="#5a5a5c" stroke-width="1" stroke-linejoin="round" shape-rendering="crispEdges"/>
<path d="M1173,295 L1188,294 L1191,300 L1194,309 L1202,317 L1212,316 L1220,317 L1229,315 L1233,322 L1240,324 L1248,321 L1258,325 L1261,330 L1260,338 L1268,338 L1274,347 L1279,352 L1284,350 L1285,345 L1290,341 L1292,348 L1297,356 L1302,365 L1308,365 L1310,359 L1318,357 L1328,354 L1332,357 L1335,353 L1336,360 L1344,365 L1350,367 L1356,367" fill="none" stroke="#5a5a5c" stroke-width="1" stroke-linejoin="round" shape-rendering="crispEdges"/>
<path d="M1084,423 L1078,429 L1078,435 L1084,440 L1092,442 L1095,448 L1099,456" fill="none" stroke="#5a5a5c" stroke-width="1" stroke-linejoin="round" shape-rendering="crispEdges"/>
<path d="M1000,455 L1001.6,454 L1004,452.4 L1006.8,451.6 L1009.2,452 L1009.6,450.8 L1011.6,448.8 L1010.4,446.4 L1008,444.8 L1006.4,443.4 L1007.6,441.2 L1010.4,440.4 L1012.4,440.8 L1014,439.2 L1016.4,438 L1018,436 L1022.4,436 L1022.4,433.2 L1020.8,431.6 L1022.8,430.8 L1026,430 L1027.6,428.6 L1028.8,429.6 L1027.6,430.8 L1030.4,433.6 L1033.2,436 L1035.6,438.4 L1038.4,438.4 L1042.4,438.8 L1046.4,438.8 L1044.4,440.8 L1041.6,441.6 L1039.6,443.6 L1040.8,446.4 L1042,448.8 L1043.6,450.4 L1042.4,452 L1040,453.2 L1037.6,454 L1039.2,456 L1039,460 L1039.6,464 L1037.2,465.2 L1034.4,464.8 L1031.2,464.4 L1030.4,465.6 L1028,465.2 L1025.6,465.6 L1024,466.8 L1022.4,470 L1020.8,468 L1018.8,466.4 L1015.2,466.4 L1012,466.6 L1010.4,467.2 L1008,468.4 L1006,466.8 L1003.6,466.4 L1001.6,465.2 L1001.2,462.4 L1002,460.8 L1000,460 L1000,455" fill="none" stroke="#5a5a5c" stroke-width="1" stroke-linejoin="round" shape-rendering="crispEdges"/>
<path d="M1043.6,450.4 L1045.2,449.6 L1047,449.6 L1049.2,452 L1051.6,454 L1052.4,456 L1050,456 L1047.6,455.6 L1046.4,458 L1048,462 L1050.8,464.8 L1049.6,466.4 L1056.4,466.6 L1055.2,470.8 L1053.2,471.6 L1048,470.4 L1046.4,472.4 L1050,473.2 L1053.2,471.6 L1056,473.2 L1058.4,475.2" fill="none" stroke="#5a5a5c" stroke-width="1" stroke-linejoin="round" shape-rendering="crispEdges"/>
<path d="M1030.8,465.2 L1031.6,470 L1032.8,474 L1032,476 L1033.2,478 L1032,482 L1029,484 L1033,489 L1040,492 L1049,491 L1055,498" fill="none" stroke="#5a5a5c" stroke-width="1" stroke-linejoin="round" shape-rendering="crispEdges"/>
<path d="M1029.6,455.2 L1030.8,454.4 L1033.6,454.4 L1035.2,455.2 L1037.6,454 L1039.2,456 L1039,460 L1039.6,464 L1037.2,465.2 L1034.4,464.8 L1032.8,464 L1032.8,460 L1031.2,459.2 L1030,456.8 L1029.6,455.2" fill="none" stroke="#5a5a5c" stroke-width="1" stroke-linejoin="round" shape-rendering="crispEdges"/>
<path d="M818,514 L817,524 L818,532 L828,536 L840,544 L847,550 L848,558 L846,570 L844,575 L830,578 L826,582 L814,585 L806,582 L800,583 L798,592 L803,600 L798,606 L802,616 L794,618 L786,620 L782,626 L788,630 L786,638" fill="none" stroke="#5a5a5c" stroke-width="1" stroke-linejoin="round" shape-rendering="crispEdges"/>
<path d="M1128,667 L1130,663 L1133,663 L1135,666 L1141,668 L1147,669" fill="none" stroke="#5a5a5c" stroke-width="1" stroke-linejoin="round" shape-rendering="crispEdges"/>
<path d="M1165,850 L1158,878" fill="none" stroke="#4a4a4a" stroke-width="1"/>
<path d="M1145,923 L1128,946" fill="none" stroke="#4a4a4a" stroke-width="1"/>
<path d="M1103,991 L1090,1017" fill="none" stroke="#4a4a4a" stroke-width="1"/>
<path d="M1081,1067 L1081,1094" fill="none" stroke="#4a4a4a" stroke-width="1"/>
<path d="M1079,1170 L1075,1186 L1069,1199" fill="none" stroke="#4a4a4a" stroke-width="1"/>
<path d="M1018,1273 L1002,1294" fill="none" stroke="#4a4a4a" stroke-width="1"/>
<path d="M917,1390 L931,1386 L942,1381" fill="none" stroke="#4a4a4a" stroke-width="1"/>
<path d="M862,1063 L869,1072 L873,1081 L875,1090" fill="none" stroke="#4a4a4a" stroke-width="1"/>
<path d="M885,1164 L884,1179 L879,1190" fill="none" stroke="#4a4a4a" stroke-width="1"/>
<path d="M838,1296 L837,1310 L840,1323" fill="none" stroke="#4a4a4a" stroke-width="1"/>
<path d="M953,1266 L950,1272" fill="none" stroke="#4a4a4a" stroke-width="1"/>
<path d="M966,1283 L972,1279 L979,1273 L980,1276 L976,1281 L971,1284Z" fill="#D9D9D9" stroke="#5a5a5a" stroke-width="0.8"/>
<path d="M865,1289 L871,1284 L876,1284 L875,1286 L870,1287 L866,1291Z" fill="#D9D9D9" stroke="#5a5a5a" stroke-width="0.8"/>
<path d="M1090,874 L1093,872 L1095,875 L1093,878 L1091,877Z" fill="#D9D9D9" stroke="#5a5a5a" stroke-width="0.8"/>
<path d="M1144,708 L1147,705 L1152,707 L1154,710 L1151,712 L1147,711Z" fill="#FFFFE5" stroke="#5a5a5a" stroke-width="0.8"/>
<path d="M1148,714 L1151,713 L1153,716 L1151,719 L1148,718Z" fill="#FFFFE5" stroke="#5a5a5a" stroke-width="0.8"/>
<path d="M1154,710 L1157,709 L1158,713 L1156,716 L1154,714Z" fill="#D9D9D9" stroke="#5a5a5a" stroke-width="0.8"/>
<path d="M1156,692 L1161,693 L1161,694 L1157,694Z" fill="#D9D9D9" stroke="#5a5a5a" stroke-width="0.8"/>
<path d="M1153,699 L1157,699 L1157,700 L1153,700Z" fill="#D9D9D9" stroke="#5a5a5a" stroke-width="0.8"/>
<path d="M1145,702 L1148,702 L1148,703 L1145,703Z" fill="#D9D9D9" stroke="#5a5a5a" stroke-width="0.8"/>
<path d="M1154,704 L1157,704 L1157,705 L1154,705Z" fill="#D9D9D9" stroke="#5a5a5a" stroke-width="0.8"/>
<rect x="910.3" y="1039.3" width="1.6" height="1.6" fill="#666"/>
<rect x="927.3" y="1044.3" width="1.6" height="1.6" fill="#666"/>
<rect x="914.3" y="1054.3" width="1.6" height="1.6" fill="#666"/>
<rect x="935.3" y="1055.3" width="1.6" height="1.6" fill="#666"/>
<rect x="913.3" y="1061.3" width="1.6" height="1.6" fill="#666"/>
<rect x="923.3" y="1059.3" width="1.6" height="1.6" fill="#666"/>
<rect x="932.3" y="1059.3" width="1.6" height="1.6" fill="#666"/>
<rect x="915.3" y="1065.3" width="1.6" height="1.6" fill="#666"/>
<rect x="934.3" y="1066.3" width="1.6" height="1.6" fill="#666"/>
<rect x="927.3" y="1075.3" width="1.6" height="1.6" fill="#666"/>
<rect x="984.3" y="1063.3" width="1.6" height="1.6" fill="#666"/>
<rect x="976.3" y="1066.3" width="1.6" height="1.6" fill="#666"/>
<rect x="970.3" y="1068.3" width="1.6" height="1.6" fill="#666"/>
<rect x="987.3" y="1067.3" width="1.6" height="1.6" fill="#666"/>
<rect x="966.3" y="1072.3" width="1.6" height="1.6" fill="#666"/>
<rect x="978.3" y="1078.3" width="1.6" height="1.6" fill="#666"/>
<rect x="963.3" y="1081.3" width="1.6" height="1.6" fill="#666"/>
<rect x="1028.3" y="1059.3" width="1.6" height="1.6" fill="#666"/>
<rect x="1051.3" y="1089.3" width="1.6" height="1.6" fill="#666"/>
<rect x="998.3" y="1120.3" width="1.6" height="1.6" fill="#666"/>
<rect x="982.3" y="1183.3" width="1.6" height="1.6" fill="#666"/>
<rect x="1028.3" y="1183.3" width="1.6" height="1.6" fill="#666"/>
<rect x="983.3" y="1193.3" width="1.6" height="1.6" fill="#666"/>
<rect x="989.3" y="1194.3" width="1.6" height="1.6" fill="#666"/>
<rect x="969.3" y="1197.3" width="1.6" height="1.6" fill="#666"/>
<rect x="978.3" y="1200.3" width="1.6" height="1.6" fill="#666"/>
<rect x="988.3" y="1198.3" width="1.6" height="1.6" fill="#666"/>
<rect x="1040.3" y="1194.3" width="1.6" height="1.6" fill="#666"/>
<rect x="1049.3" y="1195.3" width="1.6" height="1.6" fill="#666"/>
<rect x="1042.3" y="1202.3" width="1.6" height="1.6" fill="#666"/>
<rect x="1052.3" y="1200.3" width="1.6" height="1.6" fill="#666"/>
<rect x="1007.3" y="1208.3" width="1.6" height="1.6" fill="#666"/>
<rect x="1024.3" y="1211.3" width="1.6" height="1.6" fill="#666"/>
<rect x="1031.3" y="1208.3" width="1.6" height="1.6" fill="#666"/>
<rect x="1040.3" y="1212.3" width="1.6" height="1.6" fill="#666"/>
<rect x="983.3" y="1212.3" width="1.6" height="1.6" fill="#666"/>
<rect x="973.3" y="1213.3" width="1.6" height="1.6" fill="#666"/>
<rect x="958.3" y="1215.3" width="1.6" height="1.6" fill="#666"/>
<rect x="996.3" y="1216.3" width="1.6" height="1.6" fill="#666"/>
<rect x="963.3" y="1219.3" width="1.6" height="1.6" fill="#666"/>
<rect x="1013.3" y="1219.3" width="1.6" height="1.6" fill="#666"/>
<rect x="1042.3" y="1219.3" width="1.6" height="1.6" fill="#666"/>
<rect x="982.3" y="1222.3" width="1.6" height="1.6" fill="#666"/>
<rect x="1001.3" y="1223.3" width="1.6" height="1.6" fill="#666"/>
<rect x="1008.3" y="1228.3" width="1.6" height="1.6" fill="#666"/>
<rect x="1023.3" y="1227.3" width="1.6" height="1.6" fill="#666"/>
<rect x="983.3" y="1228.3" width="1.6" height="1.6" fill="#666"/>
<rect x="1015.3" y="1232.3" width="1.6" height="1.6" fill="#666"/>
<rect x="934.3" y="1233.3" width="1.6" height="1.6" fill="#666"/>
<rect x="971.3" y="1237.3" width="1.6" height="1.6" fill="#666"/>
<rect x="999.3" y="1236.3" width="1.6" height="1.6" fill="#666"/>
<rect x="1010.3" y="1239.3" width="1.6" height="1.6" fill="#666"/>
<rect x="960.3" y="1241.3" width="1.6" height="1.6" fill="#666"/>
<rect x="1022.3" y="1242.3" width="1.6" height="1.6" fill="#666"/>
<rect x="1028.3" y="1245.3" width="1.6" height="1.6" fill="#666"/>
<rect x="927.3" y="1249.3" width="1.6" height="1.6" fill="#666"/>
<rect x="935.3" y="1250.3" width="1.6" height="1.6" fill="#666"/>
<rect x="941.3" y="1249.3" width="1.6" height="1.6" fill="#666"/>
<rect x="960.3" y="1247.3" width="1.6" height="1.6" fill="#666"/>
<rect x="966.3" y="1250.3" width="1.6" height="1.6" fill="#666"/>
<rect x="971.3" y="1252.3" width="1.6" height="1.6" fill="#666"/>
<rect x="982.3" y="1249.3" width="1.6" height="1.6" fill="#666"/>
<rect x="1018.3" y="1249.3" width="1.6" height="1.6" fill="#666"/>
<rect x="914.3" y="1255.3" width="1.6" height="1.6" fill="#666"/>
<rect x="910.3" y="1258.3" width="1.6" height="1.6" fill="#666"/>
<rect x="944.3" y="1261.3" width="1.6" height="1.6" fill="#666"/>
<rect x="995.3" y="1261.3" width="1.6" height="1.6" fill="#666"/>
<rect x="1001.3" y="1260.3" width="1.6" height="1.6" fill="#666"/>
<rect x="888.3" y="1269.3" width="1.6" height="1.6" fill="#666"/>
<rect x="922.3" y="1270.3" width="1.6" height="1.6" fill="#666"/>
<rect x="876.3" y="1275.3" width="1.6" height="1.6" fill="#666"/>
<rect x="888.3" y="1277.3" width="1.6" height="1.6" fill="#666"/>
<rect x="913.3" y="1275.3" width="1.6" height="1.6" fill="#666"/>
<rect x="941.3" y="1276.3" width="1.6" height="1.6" fill="#666"/>
<rect x="965.3" y="1272.3" width="1.6" height="1.6" fill="#666"/>
<rect x="982.3" y="1268.3" width="1.6" height="1.6" fill="#666"/>
<rect x="987.3" y="1273.3" width="1.6" height="1.6" fill="#666"/>
<rect x="911.3" y="1283.3" width="1.6" height="1.6" fill="#666"/>
<rect x="915.3" y="1279.3" width="1.6" height="1.6" fill="#666"/>
<rect x="982.3" y="1282.3" width="1.6" height="1.6" fill="#666"/>
<rect x="989.3" y="1285.3" width="1.6" height="1.6" fill="#666"/>
<rect x="962.3" y="1288.3" width="1.6" height="1.6" fill="#666"/>
<rect x="986.3" y="1292.3" width="1.6" height="1.6" fill="#666"/>
<rect x="958.3" y="1299.3" width="1.6" height="1.6" fill="#666"/>
<rect x="950.3" y="1315.3" width="1.6" height="1.6" fill="#666"/>
<rect x="934.3" y="1323.3" width="1.6" height="1.6" fill="#666"/>
<rect x="933.3" y="1329.3" width="1.6" height="1.6" fill="#666"/>
<rect x="930.3" y="1332.3" width="1.6" height="1.6" fill="#666"/>
<rect x="935.3" y="1335.3" width="1.6" height="1.6" fill="#666"/>
<rect x="936.3" y="1339.3" width="1.6" height="1.6" fill="#666"/>
<rect x="935.3" y="1346.3" width="1.6" height="1.6" fill="#666"/>
<rect x="943.3" y="1348.3" width="1.6" height="1.6" fill="#666"/>
<rect x="923.3" y="1377.3" width="1.6" height="1.6" fill="#666"/>
<rect x="927.3" y="1377.3" width="1.6" height="1.6" fill="#666"/>
<rect x="1011.3" y="938.3" width="1.6" height="1.6" fill="#666"/>
<rect x="1030.3" y="947.3" width="1.6" height="1.6" fill="#666"/>
<rect x="944.3" y="978.3" width="1.6" height="1.6" fill="#666"/>
<rect x="963.3" y="986.3" width="1.6" height="1.6" fill="#666"/>
<rect x="857.3" y="939.3" width="1.6" height="1.6" fill="#666"/>
<rect x="1179.3" y="819.3" width="1.6" height="1.6" fill="#666"/>
<rect x="1204.3" y="814.3" width="1.6" height="1.6" fill="#666"/>
<rect x="1148.3" y="822.3" width="1.6" height="1.6" fill="#666"/>
<rect x="1135.3" y="898.3" width="1.6" height="1.6" fill="#666"/>
<rect x="1136.3" y="913.3" width="1.6" height="1.6" fill="#666"/>
<rect x="1185.3" y="812.3" width="1.6" height="1.6" fill="#666"/>
<rect x="1163.3" y="692.3" width="1.6" height="1.6" fill="#666"/>
<rect x="1165.3" y="692.3" width="1.6" height="1.6" fill="#666"/>
<rect x="1163.3" y="706.3" width="1.6" height="1.6" fill="#666"/>
<rect x="1153.3" y="475.3" width="1.6" height="1.6" fill="#666"/>
<rect x="1159.3" y="473.3" width="1.6" height="1.6" fill="#666"/>
<rect x="1164.3" y="480.3" width="1.6" height="1.6" fill="#666"/>
<rect x="1172.3" y="479.3" width="1.6" height="1.6" fill="#666"/>
<rect x="1168.3" y="468.3" width="1.6" height="1.6" fill="#666"/>
<rect x="1120.3" y="497.3" width="1.6" height="1.6" fill="#666"/>
<rect x="1118.3" y="501.3" width="1.6" height="1.6" fill="#666"/>
<rect x="1116.3" y="507.3" width="1.6" height="1.6" fill="#666"/>
<rect x="1095.3" y="794.3" width="1.6" height="1.6" fill="#666"/>
<rect x="1098.3" y="796.3" width="1.6" height="1.6" fill="#666"/>
<rect x="1096.3" y="799.3" width="1.6" height="1.6" fill="#666"/>
<rect x="1092.3" y="825.3" width="1.6" height="1.6" fill="#666"/>
<rect x="1095.3" y="828.3" width="1.6" height="1.6" fill="#666"/>
<rect x="1098.3" y="826.3" width="1.6" height="1.6" fill="#666"/>
<rect x="1079.3" y="832.3" width="1.6" height="1.6" fill="#666"/>
<rect x="1083.3" y="834.3" width="1.6" height="1.6" fill="#666"/>
<rect x="1087.3" y="833.3" width="1.6" height="1.6" fill="#666"/>
<rect x="1061.3" y="852.3" width="1.6" height="1.6" fill="#666"/>
<rect x="1065.3" y="852.3" width="1.6" height="1.6" fill="#666"/>
<rect x="1068.3" y="851.3" width="1.6" height="1.6" fill="#666"/>
<rect x="967.3" y="902.3" width="1.6" height="1.6" fill="#666"/>
<rect x="970.3" y="905.3" width="1.6" height="1.6" fill="#666"/>
<rect x="973.3" y="903.3" width="1.6" height="1.6" fill="#666"/>
<rect x="972.3" y="908.3" width="1.6" height="1.6" fill="#666"/>
<rect x="968.3" y="907.3" width="1.6" height="1.6" fill="#666"/>
<rect x="1100.3" y="789.3" width="1.6" height="1.6" fill="#666"/>
<rect x="1103.3" y="787.3" width="1.6" height="1.6" fill="#666"/>
<rect x="1138.3" y="746.3" width="1.6" height="1.6" fill="#666"/>
<rect x="1140.3" y="749.3" width="1.6" height="1.6" fill="#666"/>
<rect x="1127.3" y="762.3" width="1.6" height="1.6" fill="#666"/>
<rect x="1129.3" y="765.3" width="1.6" height="1.6" fill="#666"/>
<rect x="1145.3" y="730.3" width="1.6" height="1.6" fill="#666"/>
<rect x="1146.3" y="726.3" width="1.6" height="1.6" fill="#666"/>
</g>
<rect x="31" y="31" width="1438" height="1438" fill="none" stroke="#000" stroke-width="2"/>
<text transform="translate(62.2,133.3) scale(0.959,1)" font-size="67.5" class="t">C-SK1038</text>
<g id="legend">
<text x="69.5 113.2 160.2 203.2" y="855" font-size="42.5" class="c">相对占比</text>
<rect x="72" y="881" width="42" height="42.5" fill="#FFFFE5"/>
<text transform="translate(125.3,915.5) scale(0.979,1)" font-size="35.3" class="t">0.04% - 0.37%</text>
<rect x="72" y="923" width="42" height="42.5" fill="#FFFACA"/>
<text transform="translate(125.3,957.5) scale(0.979,1)" font-size="35.3" class="t">0.37% - 0.71%</text>
<rect x="72" y="965" width="42" height="42.5" fill="#FFF0AE"/>
<text transform="translate(125.3,999.5) scale(0.979,1)" font-size="35.3" class="t">0.71% - 1.00%</text>
<rect x="72" y="1007" width="42" height="42.5" fill="#FEE391"/>
<text transform="translate(125.3,1041.5) scale(0.979,1)" font-size="35.3" class="t">1.00% - 1.34%</text>
<rect x="72" y="1049" width="42" height="42.5" fill="#FECE65"/>
<text transform="translate(125.3,1083.5) scale(0.979,1)" font-size="35.3" class="t">1.34% - 1.65%</text>
<rect x="72" y="1091" width="42" height="42.5" fill="#FEB642"/>
<text transform="translate(125.3,1125.5) scale(0.979,1)" font-size="35.3" class="t">1.65% - 2.19%</text>
<rect x="72" y="1133" width="42" height="42.5" fill="#FE9929"/>
<text transform="translate(125.3,1167.5) scale(0.979,1)" font-size="35.3" class="t">2.19% - 2.55%</text>
<rect x="72" y="1175" width="42" height="42.5" fill="#F27E1B"/>
<text transform="translate(125.3,1209.5) scale(0.979,1)" font-size="35.3" class="t">2.55% - 3.70%</text>
<rect x="72" y="1217" width="42" height="42.5" fill="#E1640E"/>
<text transform="translate(125.3,1251.5) scale(0.979,1)" font-size="35.3" class="t">3.70% - 4.73%</text>
<rect x="72" y="1259" width="42" height="42.5" fill="#CC4C02"/>
<text transform="translate(125.3,1293.5) scale(0.979,1)" font-size="35.3" class="t">4.73% - 6.36%</text>
<rect x="72" y="1301" width="42" height="42.5" fill="#AA3C03"/>
<text transform="translate(125.3,1335.5) scale(0.979,1)" font-size="35.3" class="t">6.36% - 9.09%</text>
<rect x="72" y="1343" width="42" height="42.5" fill="#882F05"/>
<text transform="translate(125.3,1377.5) scale(0.979,1)" font-size="35.3" class="t">9.09% - 11.37%</text>
<rect x="72" y="1385" width="42" height="41.6" fill="#662506"/>
<text transform="translate(125.3,1419.5) scale(0.979,1)" font-size="35.3" class="t">11.37% - 13.86%</text>
</g>
<g id="author">
<text x="1180 1215" y="1422" font-size="35" class="c">作者</text>
<text x="1251.5" y="1420.5" font-size="34.8" class="t">:O1a</text>
<text x="1326 1361 1396" y="1422" font-size="35" class="c">溯源群</text>
</g>

</svg>
</body></html>
